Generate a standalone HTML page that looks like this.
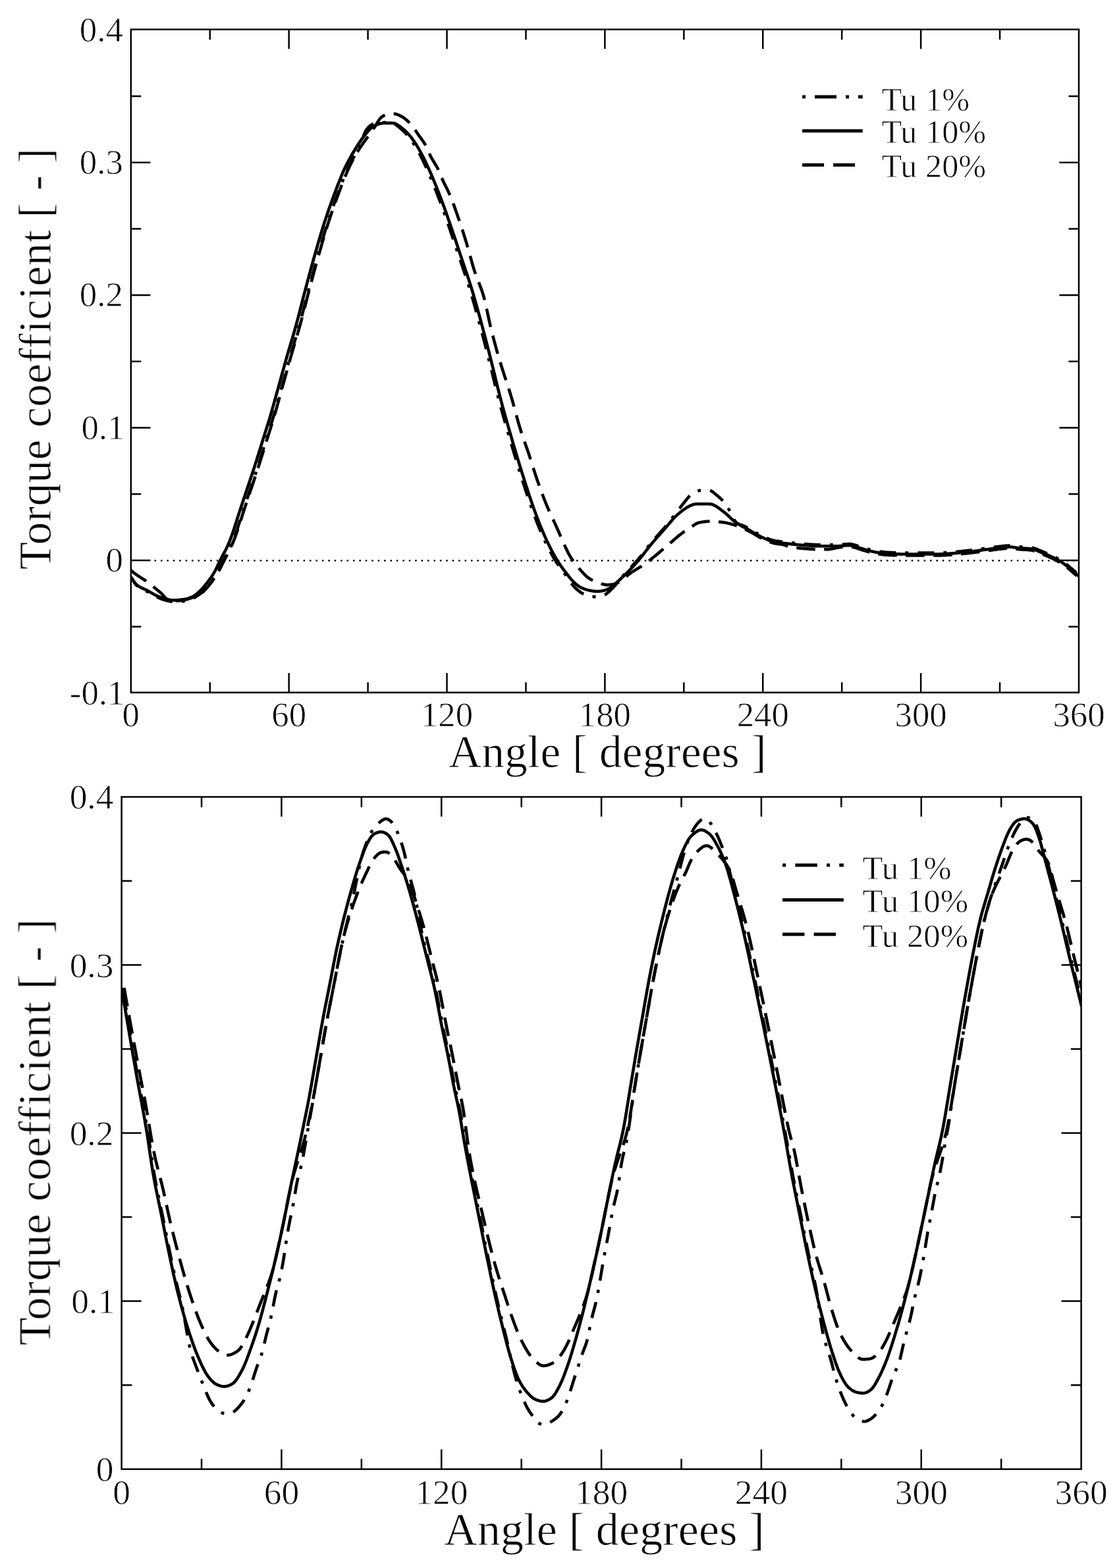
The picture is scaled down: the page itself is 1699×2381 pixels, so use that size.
<!DOCTYPE html>
<html lang="en"><head><meta charset="utf-8"><title>Torque coefficient vs. angle</title>
<style>
html,body{margin:0;padding:0;background:#fff;}
body{width:1699px;height:2381px;overflow:hidden;}
svg{display:block;}
text{font-family:"Liberation Serif", "Times New Roman", Times, serif;stroke:#fff;stroke-width:0.8px;filter:blur(0.6px);}
</style></head><body>
<svg width="1699" height="2381" viewBox="0 0 1699 2381" font-family='"Liberation Serif", "Times New Roman", Times, serif' fill="#000">
<rect width="1699" height="2381" fill="#fff"/>
<clipPath id="c1"><rect x="198.8" y="44.7" width="1439.2" height="1006.8999999999999"/></clipPath>
<clipPath id="c2"><rect x="184.6" y="1210.1" width="1457.0" height="1020.8000000000002"/></clipPath>
<g id="plot1">
<line x1="234.6" y1="851.3" x2="1636.0" y2="851.3" stroke="#000" stroke-width="2.5" stroke-dasharray="2.4 7.02"/>
<g clip-path="url(#c1)">
<path d="M200.3,878.5 L201.8,881.3 L203.3,883.6 L204.8,885.7 L206.3,887.6 L207.8,889.3 L209.3,890.6 L210.8,891.8 L212.3,892.8 L213.8,893.7 L215.3,894.6 L216.8,895.3 L218.3,896.0 L219.8,896.7 L221.3,897.3 L222.8,898.0 L224.3,898.7 L225.8,899.5 L227.3,900.4 L228.8,901.3 L230.3,902.2 L231.8,903.1 L233.3,903.9 L234.8,904.7 L236.3,905.5 L237.8,906.3 L239.3,907.0 L240.8,907.7 L242.3,908.3 L243.8,908.9 L245.3,909.5 L246.8,910.1 L248.3,910.6 L249.8,911.0 L251.3,911.5 L252.8,911.9 L254.3,912.2 L255.8,912.6 L257.3,912.9 L258.8,913.2 L260.3,913.5 L261.8,913.7 L263.3,913.9 L264.8,913.9 L266.3,913.9 L267.8,913.9 L269.3,913.8 L270.8,913.7 L272.3,913.6 L273.8,913.5 L275.3,913.4 L276.8,913.2 L278.3,913.0 L279.8,912.7 L281.3,912.5 L282.8,912.2 L284.3,911.9 L285.8,911.5 L287.3,911.0 L288.8,910.5 L290.3,910.0 L291.8,909.3 L293.3,908.6 L294.8,907.8 L296.3,906.9 L297.8,905.9 L299.3,904.9 L300.8,903.9 L302.3,902.8 L303.8,901.7 L305.3,900.4 L306.8,899.1 L308.3,897.7 L309.8,896.2 L311.3,894.6 L312.8,892.9 L314.3,891.2 L315.8,889.5 L317.3,887.7 L318.8,885.8 L320.3,883.9 L321.8,881.9 L323.3,879.8 L324.8,877.7 L326.3,875.5 L327.8,873.2 L329.3,870.7 L330.8,868.0 L332.3,865.1 L333.8,862.1 L335.3,859.0 L336.8,856.0 L338.3,853.1 L339.8,850.2 L341.3,847.3 L342.8,844.4 L344.3,841.5 L345.8,838.5 L347.3,835.5 L348.8,832.5 L350.3,829.3 L351.8,826.0 L353.3,822.5 L354.8,818.7 L356.3,814.7 L357.8,810.5 L359.3,806.2 L360.8,801.7 L362.3,797.1 L363.8,792.5 L365.3,787.7 L366.8,783.0 L368.3,778.3 L369.8,773.6 L371.3,769.0 L372.8,764.5 L374.3,760.0 L375.8,755.6 L377.3,751.1 L378.8,746.6 L380.3,742.2 L381.8,737.7 L383.3,733.2 L384.8,728.7 L386.3,724.2 L387.8,719.7 L389.3,715.1 L390.8,710.5 L392.3,705.9 L393.8,701.2 L395.3,696.4 L396.8,691.6 L398.3,686.8 L399.8,681.9 L401.3,677.1 L402.8,672.3 L404.3,667.6 L405.8,662.8 L407.3,658.0 L408.8,653.2 L410.3,648.4 L411.8,643.5 L413.3,638.7 L414.8,633.7 L416.3,628.7 L417.8,623.5 L419.3,618.3 L420.8,612.9 L422.3,607.5 L423.8,602.1 L425.3,596.7 L426.8,591.3 L428.3,585.8 L429.8,580.4 L431.3,575.0 L432.8,569.6 L434.3,564.1 L435.8,558.7 L437.3,553.3 L438.8,548.0 L440.3,542.7 L441.8,537.5 L443.3,532.4 L444.8,527.3 L446.3,522.3 L447.8,517.2 L449.3,512.1 L450.8,506.9 L452.3,501.6 L453.8,496.3 L455.3,490.9 L456.8,485.4 L458.3,479.7 L459.8,474.0 L461.3,468.1 L462.8,462.2 L464.3,456.4 L465.8,450.6 L467.3,444.8 L468.8,439.1 L470.3,433.4 L471.8,427.7 L473.3,422.1 L474.8,416.6 L476.3,411.0 L477.8,405.5 L479.3,400.1 L480.8,394.7 L482.3,389.3 L483.8,384.0 L485.3,378.8 L486.8,373.6 L488.3,368.4 L489.8,363.3 L491.3,358.3 L492.8,353.3 L494.3,348.4 L495.8,343.5 L497.3,338.8 L498.8,334.2 L500.3,329.6 L501.8,325.2 L503.3,320.8 L504.8,316.5 L506.3,312.3 L507.8,308.1 L509.3,304.0 L510.8,299.9 L512.3,295.8 L513.8,291.8 L515.3,287.8 L516.8,283.8 L518.3,279.9 L519.8,276.0 L521.3,272.2 L522.8,268.5 L524.3,264.9 L525.8,261.4 L527.3,258.0 L528.8,254.8 L530.3,251.6 L531.8,248.6 L533.3,245.7 L534.8,242.9 L536.3,240.2 L537.8,237.6 L539.3,235.1 L540.8,232.6 L542.3,230.1 L543.8,227.3 L545.3,224.2 L546.8,220.6 L548.3,216.6 L549.8,212.3 L551.3,208.0 L552.8,204.0 L554.3,200.6 L555.8,197.9 L557.3,195.7 L558.8,193.9 L560.3,192.4 L561.8,191.0 L563.3,189.9 L564.8,189.0 L566.3,188.4 L567.8,187.9 L569.3,187.5 L570.8,187.2 L572.3,186.9 L573.8,186.7 L575.3,186.5 L576.8,186.3 L578.3,186.2 L579.8,186.1 L581.3,186.0 L582.8,186.0 L584.3,186.1 L585.8,186.1 L587.3,186.2 L588.8,186.4 L590.3,186.5 L591.8,186.7 L593.3,186.9 L594.8,187.2 L596.3,187.5 L597.8,187.9 L599.3,188.5 L600.8,189.3 L602.3,190.3 L603.8,191.4 L605.3,192.6 L606.8,193.9 L608.3,195.2 L609.8,196.5 L611.3,197.8 L612.8,199.2 L614.3,200.7 L615.8,202.2 L617.3,203.9 L618.8,205.6 L620.3,207.4 L621.8,209.3 L623.3,211.2 L624.8,213.3 L626.3,215.5 L627.8,217.8 L629.3,220.2 L630.8,222.6 L632.3,225.2 L633.8,227.8 L635.3,230.4 L636.8,233.2 L638.3,236.0 L639.8,238.9 L641.3,241.9 L642.8,245.0 L644.3,248.2 L645.8,251.5 L647.3,254.8 L648.8,258.1 L650.3,261.5 L651.8,265.0 L653.3,268.5 L654.8,272.0 L656.3,275.6 L657.8,279.3 L659.3,283.0 L660.8,286.8 L662.3,290.6 L663.8,294.5 L665.3,298.4 L666.8,302.3 L668.3,306.3 L669.8,310.4 L671.3,314.5 L672.8,318.6 L674.3,322.8 L675.8,327.1 L677.3,331.4 L678.8,335.7 L680.3,340.0 L681.8,344.4 L683.3,348.8 L684.8,353.2 L686.3,357.7 L687.8,362.1 L689.3,366.6 L690.8,371.2 L692.3,375.7 L693.8,380.2 L695.3,384.8 L696.8,389.3 L698.3,393.7 L699.8,398.1 L701.3,402.5 L702.8,406.9 L704.3,411.4 L705.8,415.8 L707.3,420.3 L708.8,424.9 L710.3,429.5 L711.8,434.2 L713.3,439.1 L714.8,444.1 L716.3,449.1 L717.8,454.3 L719.3,459.6 L720.8,464.9 L722.3,470.3 L723.8,475.7 L725.3,481.1 L726.8,486.7 L728.3,492.2 L729.8,497.8 L731.3,503.5 L732.8,509.2 L734.3,514.9 L735.8,520.7 L737.3,526.5 L738.8,532.4 L740.3,538.2 L741.8,544.2 L743.3,550.2 L744.8,556.2 L746.3,562.3 L747.8,568.5 L749.3,574.7 L750.8,580.8 L752.3,586.9 L753.8,592.9 L755.3,598.8 L756.8,604.6 L758.3,610.4 L759.8,616.0 L761.3,621.6 L762.8,627.0 L764.3,632.3 L765.8,637.6 L767.3,642.9 L768.8,648.1 L770.3,653.3 L771.8,658.6 L773.3,663.7 L774.8,668.9 L776.3,674.0 L777.8,679.1 L779.3,684.2 L780.8,689.2 L782.3,694.2 L783.8,699.1 L785.3,704.0 L786.8,708.9 L788.3,713.8 L789.8,718.5 L791.3,723.3 L792.8,728.0 L794.3,732.8 L795.8,737.4 L797.3,742.1 L798.8,746.7 L800.3,751.2 L801.8,755.7 L803.3,760.1 L804.8,764.5 L806.3,768.8 L807.8,773.1 L809.3,777.2 L810.8,781.3 L812.3,785.3 L813.8,789.3 L815.3,793.1 L816.8,796.9 L818.3,800.6 L819.8,804.2 L821.3,807.7 L822.8,811.2 L824.3,814.6 L825.8,817.9 L827.3,821.1 L828.8,824.3 L830.3,827.4 L831.8,830.4 L833.3,833.4 L834.8,836.3 L836.3,839.1 L837.8,841.9 L839.3,844.6 L840.8,847.2 L842.3,849.6 L843.8,852.1 L845.3,854.4 L846.8,856.7 L848.3,858.9 L849.8,861.0 L851.3,863.0 L852.8,865.0 L854.3,867.0 L855.8,869.0 L857.3,871.1 L858.8,873.2 L860.3,875.4 L861.8,877.6 L863.3,879.8 L864.8,882.1 L866.3,884.2 L867.8,886.2 L869.3,888.1 L870.8,889.9 L872.3,891.5 L873.8,893.0 L875.3,894.5 L876.8,895.8 L878.3,897.1 L879.8,898.2 L881.3,899.3 L882.8,900.2 L884.3,901.1 L885.8,901.9 L887.3,902.6 L888.8,903.3 L890.3,903.9 L891.8,904.4 L893.3,904.8 L894.8,905.2 L896.3,905.5 L897.8,905.7 L899.3,905.9 L900.8,906.0 L902.3,906.1 L903.8,906.1 L905.3,906.1 L906.8,906.1 L908.3,905.9 L909.8,905.8 L911.3,905.6 L912.8,905.3 L914.3,905.0 L915.8,904.6 L917.3,903.9 L918.8,903.0 L920.3,902.0 L921.8,900.7 L923.3,899.5 L924.8,898.2 L926.3,896.8 L927.8,895.4 L929.3,893.9 L930.8,892.4 L932.3,890.8 L933.8,889.1 L935.3,887.4 L936.8,885.7 L938.3,884.0 L939.8,882.2 L941.3,880.4 L942.8,878.5 L944.3,876.5 L945.8,874.6 L947.3,872.8 L948.8,871.0 L950.3,869.3 L951.8,867.7 L953.3,866.2 L954.8,864.7 L956.3,863.2 L957.8,861.6 L959.3,860.0 L960.8,858.4 L962.3,856.8 L963.8,855.1 L965.3,853.5 L966.8,851.7 L968.3,850.0 L969.8,848.2 L971.3,846.4 L972.8,844.6 L974.3,842.7 L975.8,840.8 L977.3,838.8 L978.8,836.8 L980.3,834.9 L981.8,833.0 L983.3,831.0 L984.8,829.1 L986.3,827.2 L987.8,825.4 L989.3,823.6 L990.8,821.8 L992.3,820.0 L993.8,818.3 L995.3,816.6 L996.8,814.9 L998.3,813.2 L999.8,811.5 L1001.3,809.9 L1002.8,808.2 L1004.3,806.5 L1005.8,804.8 L1007.3,803.2 L1008.8,801.4 L1010.3,799.7 L1011.8,797.9 L1013.3,796.1 L1014.8,794.3 L1016.3,792.4 L1017.8,790.5 L1019.3,788.5 L1020.8,786.5 L1022.3,784.5 L1023.8,782.5 L1025.3,780.5 L1026.8,778.5 L1028.3,776.5 L1029.8,774.6 L1031.3,772.6 L1032.8,770.7 L1034.3,768.7 L1035.8,766.8 L1037.3,764.9 L1038.8,763.0 L1040.3,761.1 L1041.8,759.3 L1043.3,757.4 L1044.8,755.6 L1046.3,753.8 L1047.8,752.2 L1049.3,750.8 L1050.8,749.6 L1052.3,748.7 L1053.8,747.9 L1055.3,747.2 L1056.8,746.5 L1058.3,745.9 L1059.8,745.4 L1061.3,745.0 L1062.8,744.7 L1064.3,744.5 L1065.8,744.4 L1067.3,744.3 L1068.8,744.3 L1070.3,744.3 L1071.8,744.3 L1073.3,744.3 L1074.8,744.3 L1076.3,744.4 L1077.8,744.7 L1079.3,745.2 L1080.8,746.0 L1082.3,747.0 L1083.8,748.2 L1085.3,749.5 L1086.8,750.7 L1088.3,752.0 L1089.8,753.3 L1091.3,754.5 L1092.8,755.8 L1094.3,757.2 L1095.8,758.6 L1097.3,760.2 L1098.8,761.8 L1100.3,763.6 L1101.8,765.5 L1103.3,767.7 L1104.8,770.1 L1106.3,772.8 L1107.8,775.7 L1109.3,778.7 L1110.8,781.7 L1112.3,784.7 L1113.8,787.6 L1115.3,790.2 L1116.8,792.3 L1118.3,793.8 L1119.8,794.8 L1121.3,795.6 L1122.8,796.2 L1124.3,796.8 L1125.8,797.3 L1127.3,797.8 L1128.8,798.4 L1130.3,799.1 L1131.8,799.8 L1133.3,800.6 L1134.8,801.4 L1136.3,802.2 L1137.8,803.1 L1139.3,803.9 L1140.8,804.8 L1142.3,805.7 L1143.8,806.6 L1145.3,807.5 L1146.8,808.4 L1148.3,809.2 L1149.8,810.1 L1151.3,810.9 L1152.8,811.7 L1154.3,812.5 L1155.8,813.3 L1157.3,814.0 L1158.8,814.7 L1160.3,815.4 L1161.8,816.0 L1163.3,816.7 L1164.8,817.3 L1166.3,818.0 L1167.8,818.6 L1169.3,819.1 L1170.8,819.6 L1172.3,820.1 L1173.8,820.5 L1175.3,820.8 L1176.8,821.2 L1178.3,821.5 L1179.8,821.7 L1181.3,821.9 L1182.8,822.1 L1184.3,822.3 L1185.8,822.5 L1187.3,822.7 L1188.8,822.8 L1190.3,823.0 L1191.8,823.1 L1193.3,823.3 L1194.8,823.4 L1196.3,823.6 L1197.8,823.8 L1199.3,823.9 L1200.8,824.1 L1202.3,824.3 L1203.8,824.4 L1205.3,824.6 L1206.8,824.7 L1208.3,824.9 L1209.8,825.0 L1211.3,825.2 L1212.8,825.3 L1214.3,825.5 L1215.8,825.6 L1217.3,825.7 L1218.8,825.8 L1220.3,826.0 L1221.8,826.1 L1223.3,826.2 L1224.8,826.3 L1226.3,826.4 L1227.8,826.5 L1229.3,826.6 L1230.8,826.7 L1232.3,826.8 L1233.8,826.9 L1235.3,827.0 L1236.8,827.1 L1238.3,827.1 L1239.8,827.2 L1241.3,827.2 L1242.8,827.3 L1244.3,827.3 L1245.8,827.3 L1247.3,827.3 L1248.8,827.3 L1250.3,827.3 L1251.8,827.3 L1253.3,827.3 L1254.8,827.3 L1256.3,827.3 L1257.8,827.3 L1259.3,827.3 L1260.8,827.3 L1262.3,827.3 L1263.8,827.3 L1265.3,827.3 L1266.8,827.3 L1268.3,827.3 L1269.8,827.3 L1271.3,827.2 L1272.8,827.2 L1274.3,827.1 L1275.8,827.0 L1277.3,826.9 L1278.8,826.8 L1280.3,826.6 L1281.8,826.5 L1283.3,826.4 L1284.8,826.3 L1286.3,826.2 L1287.8,826.1 L1289.3,826.1 L1290.8,826.1 L1292.3,826.3 L1293.8,826.5 L1295.3,826.9 L1296.8,827.2 L1298.3,827.6 L1299.8,828.1 L1301.3,828.6 L1302.8,829.1 L1304.3,829.6 L1305.8,830.1 L1307.3,830.6 L1308.8,831.1 L1310.3,831.5 L1311.8,832.0 L1313.3,832.4 L1314.8,832.9 L1316.3,833.3 L1317.8,833.8 L1319.3,834.2 L1320.8,834.6 L1322.3,835.0 L1323.8,835.3 L1325.3,835.6 L1326.8,835.9 L1328.3,836.2 L1329.8,836.5 L1331.3,836.8 L1332.8,837.0 L1334.3,837.3 L1335.8,837.5 L1337.3,837.7 L1338.8,837.9 L1340.3,838.1 L1341.8,838.3 L1343.3,838.5 L1344.8,838.6 L1346.3,838.7 L1347.8,838.8 L1349.3,838.9 L1350.8,839.0 L1352.3,839.0 L1353.8,839.1 L1355.3,839.1 L1356.8,839.2 L1358.3,839.2 L1359.8,839.3 L1361.3,839.3 L1362.8,839.4 L1364.3,839.4 L1365.8,839.4 L1367.3,839.4 L1368.8,839.5 L1370.3,839.5 L1371.8,839.5 L1373.3,839.5 L1374.8,839.5 L1376.3,839.5 L1377.8,839.5 L1379.3,839.5 L1380.8,839.5 L1382.3,839.5 L1383.8,839.5 L1385.3,839.5 L1386.8,839.5 L1388.3,839.5 L1389.8,839.5 L1391.3,839.5 L1392.8,839.5 L1394.3,839.5 L1395.8,839.5 L1397.3,839.5 L1398.8,839.5 L1400.3,839.5 L1401.8,839.5 L1403.3,839.5 L1404.8,839.5 L1406.3,839.5 L1407.8,839.5 L1409.3,839.5 L1410.8,839.5 L1412.3,839.5 L1413.8,839.5 L1415.3,839.5 L1416.8,839.5 L1418.3,839.5 L1419.8,839.5 L1421.3,839.5 L1422.8,839.5 L1424.3,839.5 L1425.8,839.5 L1427.3,839.4 L1428.8,839.4 L1430.3,839.3 L1431.8,839.2 L1433.3,839.2 L1434.8,839.1 L1436.3,839.0 L1437.8,838.9 L1439.3,838.8 L1440.8,838.7 L1442.3,838.6 L1443.8,838.5 L1445.3,838.4 L1446.8,838.2 L1448.3,838.1 L1449.8,838.0 L1451.3,837.9 L1452.8,837.8 L1454.3,837.6 L1455.8,837.5 L1457.3,837.4 L1458.8,837.2 L1460.3,837.1 L1461.8,836.9 L1463.3,836.8 L1464.8,836.6 L1466.3,836.4 L1467.8,836.3 L1469.3,836.1 L1470.8,835.9 L1472.3,835.8 L1473.8,835.6 L1475.3,835.4 L1476.8,835.2 L1478.3,835.0 L1479.8,834.8 L1481.3,834.7 L1482.8,834.5 L1484.3,834.3 L1485.8,834.1 L1487.3,833.9 L1488.8,833.6 L1490.3,833.4 L1491.8,833.2 L1493.3,833.0 L1494.8,832.8 L1496.3,832.6 L1497.8,832.4 L1499.3,832.2 L1500.8,832.0 L1502.3,831.8 L1503.8,831.6 L1505.3,831.4 L1506.8,831.2 L1508.3,831.0 L1509.8,830.8 L1511.3,830.6 L1512.8,830.4 L1514.3,830.2 L1515.8,830.0 L1517.3,829.8 L1518.8,829.7 L1520.3,829.5 L1521.8,829.3 L1523.3,829.1 L1524.8,829.0 L1526.3,828.8 L1527.8,828.7 L1529.3,828.6 L1530.8,828.6 L1532.3,828.6 L1533.8,828.6 L1535.3,828.7 L1536.8,828.8 L1538.3,828.9 L1539.8,829.1 L1541.3,829.3 L1542.8,829.6 L1544.3,829.8 L1545.8,830.1 L1547.3,830.2 L1548.8,830.3 L1550.3,830.4 L1551.8,830.5 L1553.3,830.6 L1554.8,830.7 L1556.3,830.7 L1557.8,830.8 L1559.3,830.9 L1560.8,831.0 L1562.3,831.1 L1563.8,831.3 L1565.3,831.5 L1566.8,831.8 L1568.3,832.1 L1569.8,832.4 L1571.3,832.9 L1572.8,833.4 L1574.3,834.0 L1575.8,834.6 L1577.3,835.3 L1578.8,835.9 L1580.3,836.5 L1581.8,837.1 L1583.3,837.7 L1584.8,838.3 L1586.3,839.0 L1587.8,839.6 L1589.3,840.2 L1590.8,840.8 L1592.3,841.5 L1593.8,842.1 L1595.3,842.8 L1596.8,843.5 L1598.3,844.2 L1599.8,844.9 L1601.3,845.7 L1602.8,846.5 L1604.3,847.3 L1605.8,848.1 L1607.3,849.0 L1608.8,849.9 L1610.3,850.8 L1611.8,851.8 L1613.3,852.7 L1614.8,853.8 L1616.3,854.8 L1617.8,855.9 L1619.3,857.1 L1620.8,858.3 L1622.3,859.5 L1623.8,860.8 L1625.3,862.0 L1626.8,863.3 L1628.3,864.6 L1629.8,865.9 L1631.3,867.1 L1632.8,868.4 L1634.0,869.6" fill="none" stroke="#000" stroke-width="4.6" stroke-linejoin="round" stroke-dasharray="25 14 5 14" stroke-dashoffset="10" />
<path d="M198.8,866.0 L200.3,867.4 L201.8,868.6 L203.3,869.8 L204.8,870.9 L206.3,872.0 L207.8,873.1 L209.3,874.1 L210.8,875.1 L212.3,876.1 L213.8,877.1 L215.3,878.0 L216.8,879.0 L218.3,880.0 L219.8,880.9 L221.3,881.9 L222.8,882.9 L224.3,883.9 L225.8,885.0 L227.3,886.1 L228.8,887.3 L230.3,888.6 L231.8,889.9 L233.3,891.2 L234.8,892.5 L236.3,893.7 L237.8,895.0 L239.3,896.2 L240.8,897.5 L242.3,898.7 L243.8,900.0 L245.3,901.4 L246.8,903.0 L248.3,904.6 L249.8,906.3 L251.3,907.9 L252.8,909.3 L254.3,910.4 L255.8,911.1 L257.3,911.6 L258.8,912.0 L260.3,912.2 L261.8,912.3 L263.3,912.4 L264.8,912.4 L266.3,912.4 L267.8,912.3 L269.3,912.2 L270.8,912.1 L272.3,912.0 L273.8,911.8 L275.3,911.7 L276.8,911.5 L278.3,911.3 L279.8,911.0 L281.3,910.7 L282.8,910.4 L284.3,910.0 L285.8,909.5 L287.3,909.1 L288.8,908.6 L290.3,908.1 L291.8,907.6 L293.3,907.0 L294.8,906.4 L296.3,905.8 L297.8,905.2 L299.3,904.5 L300.8,903.7 L302.3,902.9 L303.8,902.1 L305.3,901.1 L306.8,900.0 L308.3,898.8 L309.8,897.3 L311.3,895.7 L312.8,894.1 L314.3,892.4 L315.8,890.7 L317.3,888.9 L318.8,887.0 L320.3,885.1 L321.8,883.2 L323.3,881.2 L324.8,879.1 L326.3,877.0 L327.8,874.8 L329.3,872.4 L330.8,869.8 L332.3,867.0 L333.8,864.1 L335.3,861.1 L336.8,858.0 L338.3,855.1 L339.8,852.1 L341.3,849.2 L342.8,846.3 L344.3,843.4 L345.8,840.5 L347.3,837.5 L348.8,834.5 L350.3,831.4 L351.8,828.2 L353.3,824.8 L354.8,821.2 L356.3,817.4 L357.8,813.3 L359.3,809.1 L360.8,804.7 L362.3,800.2 L363.8,795.6 L365.3,790.9 L366.8,786.1 L368.3,781.4 L369.8,776.7 L371.3,772.1 L372.8,767.5 L374.3,763.0 L375.8,758.6 L377.3,754.1 L378.8,749.6 L380.3,745.1 L381.8,740.7 L383.3,736.2 L384.8,731.7 L386.3,727.2 L387.8,722.7 L389.3,718.2 L390.8,713.6 L392.3,709.0 L393.8,704.3 L395.3,699.6 L396.8,694.8 L398.3,690.0 L399.8,685.2 L401.3,680.3 L402.8,675.5 L404.3,670.7 L405.8,666.0 L407.3,661.2 L408.8,656.4 L410.3,651.6 L411.8,646.8 L413.3,641.9 L414.8,637.0 L416.3,632.0 L417.8,627.0 L419.3,621.8 L420.8,616.5 L422.3,611.1 L423.8,605.7 L425.3,600.3 L426.8,594.9 L428.3,589.5 L429.8,584.0 L431.3,578.6 L432.8,573.2 L434.3,567.7 L435.8,562.3 L437.3,556.9 L438.8,551.5 L440.3,546.2 L441.8,540.9 L443.3,535.8 L444.8,530.7 L446.3,525.6 L447.8,520.6 L449.3,515.5 L450.8,510.4 L452.3,505.2 L453.8,499.9 L455.3,494.5 L456.8,489.1 L458.3,483.5 L459.8,477.8 L461.3,472.0 L462.8,466.1 L464.3,460.3 L465.8,454.4 L467.3,448.6 L468.8,442.9 L470.3,437.2 L471.8,431.5 L473.3,425.9 L474.8,420.3 L476.3,414.7 L477.8,409.2 L479.3,403.7 L480.8,398.3 L482.3,392.9 L483.8,387.5 L485.3,382.3 L486.8,377.0 L488.3,371.9 L489.8,366.7 L491.3,361.6 L492.8,356.6 L494.3,351.6 L495.8,346.8 L497.3,342.0 L498.8,337.3 L500.3,332.7 L501.8,328.2 L503.3,323.7 L504.8,319.4 L506.3,315.1 L507.8,310.9 L509.3,306.7 L510.8,302.6 L512.3,298.5 L513.8,294.5 L515.3,290.5 L516.8,286.5 L518.3,282.5 L519.8,278.6 L521.3,274.7 L522.8,271.0 L524.3,267.3 L525.8,263.8 L527.3,260.3 L528.8,256.9 L530.3,253.7 L531.8,250.6 L533.3,247.7 L534.8,244.8 L536.3,242.0 L537.8,239.3 L539.3,236.6 L540.8,234.0 L542.3,231.4 L543.8,228.9 L545.3,226.5 L546.8,224.2 L548.3,221.9 L549.8,219.7 L551.3,217.6 L552.8,215.5 L554.3,213.4 L555.8,211.3 L557.3,209.3 L558.8,207.3 L560.3,205.3 L561.8,203.2 L563.3,201.2 L564.8,199.1 L566.3,196.9 L567.8,194.6 L569.3,192.2 L570.8,189.7 L572.3,187.2 L573.8,184.7 L575.3,182.4 L576.8,180.3 L578.3,178.7 L579.8,177.4 L581.3,176.4 L582.8,175.6 L584.3,174.9 L585.8,174.3 L587.3,173.8 L588.8,173.5 L590.3,173.2 L591.8,173.1 L593.3,172.9 L594.8,172.8 L596.3,172.8 L597.8,172.8 L599.3,172.9 L600.8,173.1 L602.3,173.5 L603.8,174.1 L605.3,174.7 L606.8,175.3 L608.3,176.1 L609.8,176.9 L611.3,177.7 L612.8,178.7 L614.3,179.8 L615.8,181.0 L617.3,182.3 L618.8,183.7 L620.3,185.2 L621.8,186.7 L623.3,188.3 L624.8,189.9 L626.3,191.7 L627.8,193.6 L629.3,195.7 L630.8,198.0 L632.3,200.3 L633.8,202.6 L635.3,204.8 L636.8,206.9 L638.3,208.9 L639.8,210.9 L641.3,213.0 L642.8,215.1 L644.3,217.4 L645.8,219.9 L647.3,222.8 L648.8,226.0 L650.3,229.5 L651.8,233.0 L653.3,236.3 L654.8,239.2 L656.3,241.9 L657.8,244.3 L659.3,246.7 L660.8,249.2 L662.3,251.7 L663.8,254.3 L665.3,257.3 L666.8,260.6 L668.3,264.1 L669.8,267.8 L671.3,271.4 L672.8,274.7 L674.3,277.9 L675.8,281.0 L677.3,284.0 L678.8,287.0 L680.3,290.1 L681.8,293.4 L683.3,296.8 L684.8,300.4 L686.3,304.2 L687.8,308.1 L689.3,312.1 L690.8,316.3 L692.3,320.5 L693.8,324.8 L695.3,329.2 L696.8,333.5 L698.3,338.0 L699.8,342.4 L701.3,347.0 L702.8,351.6 L704.3,356.3 L705.8,361.0 L707.3,365.9 L708.8,370.9 L710.3,376.0 L711.8,381.3 L713.3,386.7 L714.8,392.2 L716.3,397.6 L717.8,402.9 L719.3,407.9 L720.8,412.6 L722.3,417.0 L723.8,421.0 L725.3,424.9 L726.8,428.7 L728.3,432.5 L729.8,436.4 L731.3,440.5 L732.8,444.9 L734.3,449.9 L735.8,455.4 L737.3,461.7 L738.8,468.5 L740.3,475.6 L741.8,482.6 L743.3,489.4 L744.8,495.9 L746.3,502.0 L747.8,508.0 L749.3,513.8 L750.8,519.5 L752.3,525.0 L753.8,530.5 L755.3,535.8 L756.8,541.0 L758.3,546.1 L759.8,551.0 L761.3,555.8 L762.8,560.6 L764.3,565.2 L765.8,569.9 L767.3,574.5 L768.8,579.0 L770.3,583.7 L771.8,588.3 L773.3,593.0 L774.8,597.8 L776.3,602.8 L777.8,607.8 L779.3,613.1 L780.8,618.6 L782.3,624.1 L783.8,629.8 L785.3,635.4 L786.8,640.8 L788.3,646.0 L789.8,651.0 L791.3,655.7 L792.8,660.3 L794.3,664.7 L795.8,669.0 L797.3,673.2 L798.8,677.5 L800.3,681.7 L801.8,686.1 L803.3,690.6 L804.8,695.2 L806.3,699.9 L807.8,704.6 L809.3,709.4 L810.8,714.1 L812.3,718.7 L813.8,723.3 L815.3,727.7 L816.8,732.0 L818.3,736.3 L819.8,740.5 L821.3,744.7 L822.8,748.8 L824.3,752.8 L825.8,756.7 L827.3,760.5 L828.8,764.2 L830.3,767.8 L831.8,771.3 L833.3,774.7 L834.8,778.1 L836.3,781.4 L837.8,784.7 L839.3,787.9 L840.8,791.1 L842.3,794.4 L843.8,797.6 L845.3,800.9 L846.8,804.3 L848.3,807.7 L849.8,811.1 L851.3,814.6 L852.8,818.1 L854.3,821.5 L855.8,824.9 L857.3,828.2 L858.8,831.5 L860.3,834.6 L861.8,837.6 L863.3,840.5 L864.8,843.3 L866.3,845.9 L867.8,848.3 L869.3,850.6 L870.8,852.7 L872.3,854.8 L873.8,856.7 L875.3,858.6 L876.8,860.4 L878.3,862.2 L879.8,863.9 L881.3,865.5 L882.8,867.2 L884.3,868.8 L885.8,870.5 L887.3,872.1 L888.8,873.6 L890.3,875.1 L891.8,876.3 L893.3,877.5 L894.8,878.5 L896.3,879.4 L897.8,880.2 L899.3,881.0 L900.8,881.7 L902.3,882.4 L903.8,883.1 L905.3,883.7 L906.8,884.3 L908.3,884.8 L909.8,885.4 L911.3,885.9 L912.8,886.4 L914.3,886.8 L915.8,887.3 L917.3,887.6 L918.8,887.9 L920.3,888.1 L921.8,888.1 L923.3,888.1 L924.8,888.0 L926.3,887.9 L927.8,887.8 L929.3,887.6 L930.8,887.4 L932.3,887.1 L933.8,886.7 L935.3,886.2 L936.8,885.5 L938.3,884.7 L939.8,883.7 L941.3,882.7 L942.8,881.6 L944.3,880.5 L945.8,879.4 L947.3,878.3 L948.8,877.1 L950.3,875.9 L951.8,874.7 L953.3,873.4 L954.8,872.2 L956.3,871.0 L957.8,869.9 L959.3,868.9 L960.8,867.9 L962.3,866.9 L963.8,866.0 L965.3,865.1 L966.8,864.1 L968.3,863.3 L969.8,862.4 L971.3,861.4 L972.8,860.5 L974.3,859.6 L975.8,858.6 L977.3,857.6 L978.8,856.5 L980.3,855.4 L981.8,854.3 L983.3,853.2 L984.8,852.0 L986.3,850.9 L987.8,849.7 L989.3,848.5 L990.8,847.2 L992.3,846.0 L993.8,844.8 L995.3,843.6 L996.8,842.4 L998.3,841.1 L999.8,839.9 L1001.3,838.6 L1002.8,837.3 L1004.3,836.1 L1005.8,834.8 L1007.3,833.5 L1008.8,832.2 L1010.3,830.9 L1011.8,829.6 L1013.3,828.3 L1014.8,827.0 L1016.3,825.7 L1017.8,824.4 L1019.3,823.2 L1020.8,821.9 L1022.3,820.6 L1023.8,819.3 L1025.3,818.0 L1026.8,816.7 L1028.3,815.4 L1029.8,814.1 L1031.3,812.9 L1032.8,811.7 L1034.3,810.6 L1035.8,809.5 L1037.3,808.4 L1038.8,807.3 L1040.3,806.3 L1041.8,805.3 L1043.3,804.3 L1044.8,803.4 L1046.3,802.4 L1047.8,801.4 L1049.3,800.4 L1050.8,799.4 L1052.3,798.3 L1053.8,797.3 L1055.3,796.3 L1056.8,795.4 L1058.3,794.6 L1059.8,794.0 L1061.3,793.6 L1062.8,793.2 L1064.3,793.0 L1065.8,792.7 L1067.3,792.5 L1068.8,792.3 L1070.3,792.1 L1071.8,791.9 L1073.3,791.8 L1074.8,791.7 L1076.3,791.7 L1077.8,791.6 L1079.3,791.6 L1080.8,791.7 L1082.3,791.7 L1083.8,791.8 L1085.3,791.9 L1086.8,792.0 L1088.3,792.1 L1089.8,792.2 L1091.3,792.4 L1092.8,792.5 L1094.3,792.7 L1095.8,792.9 L1097.3,793.1 L1098.8,793.3 L1100.3,793.5 L1101.8,793.7 L1103.3,794.0 L1104.8,794.4 L1106.3,794.7 L1107.8,795.1 L1109.3,795.5 L1110.8,796.0 L1112.3,796.4 L1113.8,796.8 L1115.3,797.3 L1116.8,797.8 L1118.3,798.3 L1119.8,798.8 L1121.3,799.3 L1122.8,799.9 L1124.3,800.5 L1125.8,801.2 L1127.3,801.8 L1128.8,802.5 L1130.3,803.2 L1131.8,803.9 L1133.3,804.6 L1134.8,805.3 L1136.3,806.1 L1137.8,806.8 L1139.3,807.6 L1140.8,808.4 L1142.3,809.3 L1143.8,810.2 L1145.3,811.1 L1146.8,812.0 L1148.3,812.9 L1149.8,813.8 L1151.3,814.7 L1152.8,815.6 L1154.3,816.4 L1155.8,817.2 L1157.3,818.0 L1158.8,818.7 L1160.3,819.4 L1161.8,820.1 L1163.3,820.7 L1164.8,821.3 L1166.3,821.9 L1167.8,822.5 L1169.3,823.1 L1170.8,823.6 L1172.3,824.1 L1173.8,824.5 L1175.3,824.9 L1176.8,825.2 L1178.3,825.5 L1179.8,825.7 L1181.3,825.9 L1182.8,826.1 L1184.3,826.3 L1185.8,826.5 L1187.3,826.7 L1188.8,826.9 L1190.3,827.3 L1191.8,827.8 L1193.3,828.4 L1194.8,829.1 L1196.3,829.7 L1197.8,830.3 L1199.3,830.7 L1200.8,831.0 L1202.3,831.3 L1203.8,831.5 L1205.3,831.6 L1206.8,831.7 L1208.3,831.9 L1209.8,832.0 L1211.3,832.2 L1212.8,832.3 L1214.3,832.5 L1215.8,832.6 L1217.3,832.7 L1218.8,832.8 L1220.3,832.9 L1221.8,833.1 L1223.3,833.2 L1224.8,833.3 L1226.3,833.4 L1227.8,833.5 L1229.3,833.6 L1230.8,833.7 L1232.3,833.8 L1233.8,833.9 L1235.3,834.0 L1236.8,834.1 L1238.3,834.1 L1239.8,834.2 L1241.3,834.2 L1242.8,834.2 L1244.3,834.3 L1245.8,834.3 L1247.3,834.3 L1248.8,834.3 L1250.3,834.3 L1251.8,834.3 L1253.3,834.3 L1254.8,834.3 L1256.3,834.3 L1257.8,834.2 L1259.3,834.0 L1260.8,833.8 L1262.3,833.6 L1263.8,833.3 L1265.3,833.0 L1266.8,832.7 L1268.3,832.3 L1269.8,832.0 L1271.3,831.7 L1272.8,831.5 L1274.3,831.2 L1275.8,831.0 L1277.3,830.9 L1278.8,830.7 L1280.3,830.6 L1281.8,830.5 L1283.3,830.4 L1284.8,830.3 L1286.3,830.2 L1287.8,830.1 L1289.3,830.1 L1290.8,830.1 L1292.3,830.2 L1293.8,830.5 L1295.3,830.8 L1296.8,831.2 L1298.3,831.6 L1299.8,832.1 L1301.3,832.6 L1302.8,833.1 L1304.3,833.6 L1305.8,834.1 L1307.3,834.6 L1308.8,835.1 L1310.3,835.5 L1311.8,836.0 L1313.3,836.4 L1314.8,836.9 L1316.3,837.3 L1317.8,837.8 L1319.3,838.2 L1320.8,838.6 L1322.3,839.0 L1323.8,839.3 L1325.3,839.7 L1326.8,839.9 L1328.3,840.2 L1329.8,840.5 L1331.3,840.8 L1332.8,841.0 L1334.3,841.3 L1335.8,841.5 L1337.3,841.7 L1338.8,841.9 L1340.3,842.1 L1341.8,842.3 L1343.3,842.5 L1344.8,842.6 L1346.3,842.7 L1347.8,842.8 L1349.3,842.9 L1350.8,843.0 L1352.3,843.0 L1353.8,843.1 L1355.3,843.1 L1356.8,843.2 L1358.3,843.2 L1359.8,843.3 L1361.3,843.3 L1362.8,843.4 L1364.3,843.4 L1365.8,843.4 L1367.3,843.4 L1368.8,843.5 L1370.3,843.5 L1371.8,843.5 L1373.3,843.5 L1374.8,843.5 L1376.3,843.5 L1377.8,843.5 L1379.3,843.5 L1380.8,843.5 L1382.3,843.5 L1383.8,843.5 L1385.3,843.5 L1386.8,843.5 L1388.3,843.5 L1389.8,843.5 L1391.3,843.5 L1392.8,843.5 L1394.3,843.5 L1395.8,843.5 L1397.3,843.5 L1398.8,843.5 L1400.3,843.5 L1401.8,843.5 L1403.3,843.5 L1404.8,843.5 L1406.3,843.5 L1407.8,843.5 L1409.3,843.5 L1410.8,843.5 L1412.3,843.5 L1413.8,843.5 L1415.3,843.5 L1416.8,843.5 L1418.3,843.5 L1419.8,843.5 L1421.3,843.5 L1422.8,843.5 L1424.3,843.5 L1425.8,843.5 L1427.3,843.4 L1428.8,843.4 L1430.3,843.3 L1431.8,843.2 L1433.3,843.2 L1434.8,843.1 L1436.3,843.0 L1437.8,842.9 L1439.3,842.8 L1440.8,842.7 L1442.3,842.6 L1443.8,842.5 L1445.3,842.4 L1446.8,842.2 L1448.3,842.1 L1449.8,842.0 L1451.3,841.9 L1452.8,841.8 L1454.3,841.6 L1455.8,841.5 L1457.3,841.4 L1458.8,841.2 L1460.3,841.1 L1461.8,840.9 L1463.3,840.8 L1464.8,840.6 L1466.3,840.4 L1467.8,840.3 L1469.3,840.1 L1470.8,839.9 L1472.3,839.8 L1473.8,839.6 L1475.3,839.4 L1476.8,839.2 L1478.3,839.0 L1479.8,838.8 L1481.3,838.7 L1482.8,838.5 L1484.3,838.3 L1485.8,838.1 L1487.3,837.9 L1488.8,837.6 L1490.3,837.4 L1491.8,837.2 L1493.3,837.0 L1494.8,836.8 L1496.3,836.6 L1497.8,836.4 L1499.3,836.2 L1500.8,836.0 L1502.3,835.8 L1503.8,835.6 L1505.3,835.4 L1506.8,835.2 L1508.3,835.0 L1509.8,834.8 L1511.3,834.6 L1512.8,834.4 L1514.3,834.2 L1515.8,834.0 L1517.3,833.8 L1518.8,833.7 L1520.3,833.5 L1521.8,833.3 L1523.3,833.2 L1524.8,833.0 L1526.3,832.8 L1527.8,832.7 L1529.3,832.6 L1530.8,832.5 L1532.3,832.5 L1533.8,832.6 L1535.3,832.7 L1536.8,832.8 L1538.3,833.0 L1539.8,833.1 L1541.3,833.4 L1542.8,833.6 L1544.3,833.8 L1545.8,834.0 L1547.3,834.2 L1548.8,834.3 L1550.3,834.4 L1551.8,834.5 L1553.3,834.6 L1554.8,834.7 L1556.3,834.7 L1557.8,834.8 L1559.3,834.9 L1560.8,835.0 L1562.3,835.1 L1563.8,835.3 L1565.3,835.5 L1566.8,835.8 L1568.3,836.1 L1569.8,836.5 L1571.3,836.9 L1572.8,837.4 L1574.3,838.0 L1575.8,838.6 L1577.3,839.3 L1578.8,839.9 L1580.3,840.5 L1581.8,841.1 L1583.3,841.7 L1584.8,842.3 L1586.3,843.0 L1587.8,843.6 L1589.3,844.2 L1590.8,844.8 L1592.3,845.5 L1593.8,846.1 L1595.3,846.8 L1596.8,847.5 L1598.3,848.2 L1599.8,848.9 L1601.3,849.7 L1602.8,850.5 L1604.3,851.3 L1605.8,852.1 L1607.3,853.0 L1608.8,853.9 L1610.3,854.8 L1611.8,855.8 L1613.3,856.8 L1614.8,857.8 L1616.3,858.9 L1617.8,860.0 L1619.3,861.1 L1620.8,862.3 L1622.3,863.5 L1623.8,864.7 L1625.3,866.0 L1626.8,867.3 L1628.3,868.6 L1629.8,869.9 L1631.3,871.2 L1632.8,872.4 L1634.3,873.7 L1635.0,874.5" fill="none" stroke="#000" stroke-width="4.6" stroke-linejoin="round" stroke-dasharray="28.5 13.5" stroke-dashoffset="0" />
<path d="M198.8,876.0 L200.3,878.6 L201.8,880.8 L203.3,883.0 L204.8,884.9 L206.3,886.7 L207.8,888.2 L209.3,889.4 L210.8,890.4 L212.3,891.3 L213.8,892.1 L215.3,892.8 L216.8,893.5 L218.3,894.1 L219.8,894.8 L221.3,895.5 L222.8,896.2 L224.3,897.0 L225.8,897.9 L227.3,898.7 L228.8,899.6 L230.3,900.5 L231.8,901.4 L233.3,902.3 L234.8,903.1 L236.3,903.8 L237.8,904.5 L239.3,905.2 L240.8,905.8 L242.3,906.4 L243.8,907.0 L245.3,907.6 L246.8,908.1 L248.3,908.5 L249.8,909.0 L251.3,909.4 L252.8,909.7 L254.3,910.1 L255.8,910.4 L257.3,910.7 L258.8,911.0 L260.3,911.2 L261.8,911.3 L263.3,911.4 L264.8,911.5 L266.3,911.4 L267.8,911.4 L269.3,911.3 L270.8,911.1 L272.3,911.0 L273.8,910.8 L275.3,910.6 L276.8,910.4 L278.3,910.2 L279.8,910.0 L281.3,909.7 L282.8,909.4 L284.3,909.0 L285.8,908.6 L287.3,908.1 L288.8,907.5 L290.3,906.9 L291.8,906.3 L293.3,905.6 L294.8,904.7 L296.3,903.8 L297.8,902.6 L299.3,901.3 L300.8,900.0 L302.3,898.5 L303.8,897.1 L305.3,895.6 L306.8,894.0 L308.3,892.4 L309.8,890.7 L311.3,888.9 L312.8,887.0 L314.3,885.1 L315.8,883.2 L317.3,881.2 L318.8,879.1 L320.3,877.0 L321.8,874.7 L323.3,872.4 L324.8,869.9 L326.3,867.3 L327.8,864.5 L329.3,861.4 L330.8,858.2 L332.3,855.0 L333.8,851.9 L335.3,848.9 L336.8,846.0 L338.3,843.2 L339.8,840.4 L341.3,837.6 L342.8,834.7 L344.3,831.6 L345.8,828.4 L347.3,824.9 L348.8,821.3 L350.3,817.4 L351.8,813.4 L353.3,809.2 L354.8,804.8 L356.3,800.1 L357.8,795.4 L359.3,790.6 L360.8,785.9 L362.3,781.2 L363.8,776.6 L365.3,772.1 L366.8,767.6 L368.3,763.1 L369.8,758.6 L371.3,754.1 L372.8,749.6 L374.3,745.1 L375.8,740.6 L377.3,736.2 L378.8,731.7 L380.3,727.2 L381.8,722.7 L383.3,718.2 L384.8,713.7 L386.3,709.0 L387.8,704.4 L389.3,699.6 L390.8,694.8 L392.3,690.0 L393.8,685.2 L395.3,680.3 L396.8,675.5 L398.3,670.7 L399.8,665.9 L401.3,661.1 L402.8,656.4 L404.3,651.6 L405.8,646.8 L407.3,642.0 L408.8,637.1 L410.3,632.1 L411.8,627.0 L413.3,621.8 L414.8,616.5 L416.3,611.2 L417.8,605.7 L419.3,600.3 L420.8,594.9 L422.3,589.5 L423.8,584.0 L425.3,578.6 L426.8,573.2 L428.3,567.7 L429.8,562.3 L431.3,556.9 L432.8,551.5 L434.3,546.2 L435.8,540.9 L437.3,535.7 L438.8,530.6 L440.3,525.6 L441.8,520.5 L443.3,515.5 L444.8,510.4 L446.3,505.3 L447.8,500.0 L449.3,494.7 L450.8,489.2 L452.3,483.5 L453.8,477.8 L455.3,472.0 L456.8,466.1 L458.3,460.3 L459.8,454.4 L461.3,448.6 L462.8,442.8 L464.3,437.1 L465.8,431.5 L467.3,425.9 L468.8,420.3 L470.3,414.7 L471.8,409.2 L473.3,403.7 L474.8,398.3 L476.3,392.9 L477.8,387.6 L479.3,382.3 L480.8,377.1 L482.3,371.9 L483.8,366.7 L485.3,361.6 L486.8,356.6 L488.3,351.6 L489.8,346.7 L491.3,342.0 L492.8,337.3 L494.3,332.7 L495.8,328.1 L497.3,323.7 L498.8,319.4 L500.3,315.1 L501.8,310.9 L503.3,306.7 L504.8,302.6 L506.3,298.5 L507.8,294.5 L509.3,290.5 L510.8,286.5 L512.3,282.6 L513.8,278.6 L515.3,274.8 L516.8,271.0 L518.3,267.3 L519.8,263.7 L521.3,260.2 L522.8,256.9 L524.3,253.7 L525.8,250.6 L527.3,247.7 L528.8,244.8 L530.3,242.0 L531.8,239.3 L533.3,236.6 L534.8,234.0 L536.3,231.5 L537.8,229.0 L539.3,226.5 L540.8,224.1 L542.3,221.7 L543.8,219.3 L545.3,217.0 L546.8,214.8 L548.3,212.6 L549.8,210.5 L551.3,208.5 L552.8,206.6 L554.3,204.7 L555.8,202.9 L557.3,201.1 L558.8,199.3 L560.3,197.6 L561.8,196.0 L563.3,194.6 L564.8,193.4 L566.3,192.3 L567.8,191.5 L569.3,190.7 L570.8,190.0 L572.3,189.4 L573.8,188.8 L575.3,188.2 L576.8,187.8 L578.3,187.4 L579.8,187.2 L581.3,187.0 L582.8,186.9 L584.3,186.9 L585.8,186.9 L587.3,186.9 L588.8,186.9 L590.3,186.9 L591.8,186.9 L593.3,186.9 L594.8,186.9 L596.3,187.0 L597.8,187.1 L599.3,187.4 L600.8,188.0 L602.3,188.7 L603.8,189.6 L605.3,190.6 L606.8,191.7 L608.3,192.8 L609.8,194.0 L611.3,195.2 L612.8,196.5 L614.3,197.8 L615.8,199.2 L617.3,200.6 L618.8,202.2 L620.3,203.9 L621.8,205.6 L623.3,207.4 L624.8,209.3 L626.3,211.3 L627.8,213.3 L629.3,215.5 L630.8,217.7 L632.3,220.1 L633.8,222.6 L635.3,225.1 L636.8,227.8 L638.3,230.5 L639.8,233.3 L641.3,236.1 L642.8,239.0 L644.3,242.0 L645.8,245.0 L647.3,248.2 L648.8,251.4 L650.3,254.7 L651.8,258.1 L653.3,261.5 L654.8,265.0 L656.3,268.5 L657.8,272.0 L659.3,275.6 L660.8,279.3 L662.3,283.0 L663.8,286.8 L665.3,290.6 L666.8,294.5 L668.3,298.4 L669.8,302.3 L671.3,306.3 L672.8,310.4 L674.3,314.5 L675.8,318.6 L677.3,322.8 L678.8,327.1 L680.3,331.4 L681.8,335.7 L683.3,340.0 L684.8,344.4 L686.3,348.8 L687.8,353.2 L689.3,357.6 L690.8,362.1 L692.3,366.6 L693.8,371.2 L695.3,375.7 L696.8,380.2 L698.3,384.8 L699.8,389.3 L701.3,393.7 L702.8,398.2 L704.3,402.6 L705.8,407.0 L707.3,411.4 L708.8,415.8 L710.3,420.3 L711.8,424.8 L713.3,429.5 L714.8,434.2 L716.3,439.1 L717.8,444.0 L719.3,449.1 L720.8,454.3 L722.3,459.6 L723.8,464.9 L725.3,470.3 L726.8,475.7 L728.3,481.2 L729.8,486.7 L731.3,492.2 L732.8,497.8 L734.3,503.5 L735.8,509.2 L737.3,514.9 L738.8,520.7 L740.3,526.5 L741.8,532.4 L743.3,538.2 L744.8,544.2 L746.3,550.1 L747.8,556.2 L749.3,562.3 L750.8,568.4 L752.3,574.6 L753.8,580.8 L755.3,586.9 L756.8,593.0 L758.3,598.9 L759.8,604.8 L761.3,610.5 L762.8,616.1 L764.3,621.6 L765.8,627.0 L767.3,632.3 L768.8,637.6 L770.3,642.9 L771.8,648.1 L773.3,653.3 L774.8,658.5 L776.3,663.7 L777.8,668.9 L779.3,674.0 L780.8,679.1 L782.3,684.2 L783.8,689.2 L785.3,694.2 L786.8,699.1 L788.3,704.1 L789.8,708.9 L791.3,713.8 L792.8,718.6 L794.3,723.3 L795.8,728.0 L797.3,732.7 L798.8,737.4 L800.3,742.0 L801.8,746.6 L803.3,751.2 L804.8,755.7 L806.3,760.2 L807.8,764.6 L809.3,768.9 L810.8,773.1 L812.3,777.2 L813.8,781.3 L815.3,785.3 L816.8,789.2 L818.3,793.1 L819.8,796.9 L821.3,800.6 L822.8,804.2 L824.3,807.7 L825.8,811.2 L827.3,814.6 L828.8,817.9 L830.3,821.2 L831.8,824.3 L833.3,827.4 L834.8,830.4 L836.3,833.4 L837.8,836.3 L839.3,839.1 L840.8,841.9 L842.3,844.6 L843.8,847.2 L845.3,849.7 L846.8,852.1 L848.3,854.4 L849.8,856.7 L851.3,858.9 L852.8,861.0 L854.3,863.1 L855.8,865.1 L857.3,867.1 L858.8,869.0 L860.3,871.0 L861.8,872.9 L863.3,874.9 L864.8,876.8 L866.3,878.6 L867.8,880.4 L869.3,882.0 L870.8,883.5 L872.3,885.0 L873.8,886.3 L875.3,887.5 L876.8,888.7 L878.3,889.8 L879.8,890.8 L881.3,891.8 L882.8,892.6 L884.3,893.2 L885.8,893.9 L887.3,894.4 L888.8,894.9 L890.3,895.4 L891.8,895.8 L893.3,896.1 L894.8,896.5 L896.3,896.8 L897.8,897.1 L899.3,897.3 L900.8,897.6 L902.3,897.8 L903.8,897.9 L905.3,898.0 L906.8,898.0 L908.3,898.0 L909.8,897.9 L911.3,897.7 L912.8,897.5 L914.3,897.2 L915.8,896.9 L917.3,896.5 L918.8,896.1 L920.3,895.7 L921.8,895.1 L923.3,894.5 L924.8,893.6 L926.3,892.6 L927.8,891.5 L929.3,890.3 L930.8,889.1 L932.3,887.8 L933.8,886.6 L935.3,885.3 L936.8,884.0 L938.3,882.7 L939.8,881.4 L941.3,880.0 L942.8,878.6 L944.3,877.1 L945.8,875.7 L947.3,874.3 L948.8,872.8 L950.3,871.3 L951.8,869.8 L953.3,868.3 L954.8,866.8 L956.3,865.3 L957.8,863.7 L959.3,862.1 L960.8,860.5 L962.3,858.9 L963.8,857.2 L965.3,855.6 L966.8,853.9 L968.3,852.2 L969.8,850.4 L971.3,848.6 L972.8,846.8 L974.3,844.9 L975.8,843.0 L977.3,841.1 L978.8,839.2 L980.3,837.2 L981.8,835.2 L983.3,833.3 L984.8,831.4 L986.3,829.5 L987.8,827.6 L989.3,825.8 L990.8,824.0 L992.3,822.2 L993.8,820.5 L995.3,818.7 L996.8,817.0 L998.3,815.3 L999.8,813.7 L1001.3,812.0 L1002.8,810.3 L1004.3,808.6 L1005.8,807.0 L1007.3,805.3 L1008.8,803.6 L1010.3,801.9 L1011.8,800.1 L1013.3,798.4 L1014.8,796.6 L1016.3,794.8 L1017.8,793.0 L1019.3,791.2 L1020.8,789.5 L1022.3,787.8 L1023.8,786.2 L1025.3,784.7 L1026.8,783.2 L1028.3,781.8 L1029.8,780.5 L1031.3,779.2 L1032.8,778.0 L1034.3,776.8 L1035.8,775.6 L1037.3,774.5 L1038.8,773.4 L1040.3,772.3 L1041.8,771.3 L1043.3,770.4 L1044.8,769.6 L1046.3,768.8 L1047.8,768.0 L1049.3,767.4 L1050.8,766.7 L1052.3,766.2 L1053.8,765.8 L1055.3,765.5 L1056.8,765.4 L1058.3,765.3 L1059.8,765.3 L1061.3,765.3 L1062.8,765.3 L1064.3,765.3 L1065.8,765.3 L1067.3,765.3 L1068.8,765.3 L1070.3,765.3 L1071.8,765.3 L1073.3,765.3 L1074.8,765.3 L1076.3,765.3 L1077.8,765.4 L1079.3,765.5 L1080.8,765.8 L1082.3,766.3 L1083.8,766.9 L1085.3,767.7 L1086.8,768.5 L1088.3,769.5 L1089.8,770.5 L1091.3,771.6 L1092.8,772.7 L1094.3,773.8 L1095.8,775.0 L1097.3,776.1 L1098.8,777.2 L1100.3,778.4 L1101.8,779.6 L1103.3,780.9 L1104.8,782.3 L1106.3,783.7 L1107.8,785.1 L1109.3,786.6 L1110.8,788.0 L1112.3,789.3 L1113.8,790.7 L1115.3,791.9 L1116.8,793.0 L1118.3,794.1 L1119.8,795.1 L1121.3,796.0 L1122.8,796.9 L1124.3,797.8 L1125.8,798.6 L1127.3,799.4 L1128.8,800.2 L1130.3,801.0 L1131.8,801.8 L1133.3,802.6 L1134.8,803.4 L1136.3,804.2 L1137.8,805.1 L1139.3,805.9 L1140.8,806.8 L1142.3,807.7 L1143.8,808.6 L1145.3,809.5 L1146.8,810.4 L1148.3,811.2 L1149.8,812.1 L1151.3,812.9 L1152.8,813.7 L1154.3,814.5 L1155.8,815.3 L1157.3,816.0 L1158.8,816.7 L1160.3,817.3 L1161.8,818.0 L1163.3,818.7 L1164.8,819.3 L1166.3,819.9 L1167.8,820.5 L1169.3,821.1 L1170.8,821.6 L1172.3,822.1 L1173.8,822.5 L1175.3,822.9 L1176.8,823.2 L1178.3,823.5 L1179.8,823.7 L1181.3,823.9 L1182.8,824.1 L1184.3,824.3 L1185.8,824.5 L1187.3,824.7 L1188.8,824.8 L1190.3,825.0 L1191.8,825.1 L1193.3,825.3 L1194.8,825.4 L1196.3,825.6 L1197.8,825.8 L1199.3,825.9 L1200.8,826.1 L1202.3,826.3 L1203.8,826.4 L1205.3,826.6 L1206.8,826.7 L1208.3,826.9 L1209.8,827.0 L1211.3,827.2 L1212.8,827.3 L1214.3,827.5 L1215.8,827.6 L1217.3,827.7 L1218.8,827.8 L1220.3,827.9 L1221.8,828.1 L1223.3,828.2 L1224.8,828.3 L1226.3,828.4 L1227.8,828.5 L1229.3,828.6 L1230.8,828.7 L1232.3,828.8 L1233.8,828.9 L1235.3,829.0 L1236.8,829.1 L1238.3,829.1 L1239.8,829.2 L1241.3,829.2 L1242.8,829.3 L1244.3,829.3 L1245.8,829.3 L1247.3,829.3 L1248.8,829.3 L1250.3,829.3 L1251.8,829.3 L1253.3,829.3 L1254.8,829.3 L1256.3,829.3 L1257.8,829.3 L1259.3,829.3 L1260.8,829.3 L1262.3,829.3 L1263.8,829.3 L1265.3,829.3 L1266.8,829.3 L1268.3,829.3 L1269.8,829.3 L1271.3,829.3 L1272.8,829.2 L1274.3,829.1 L1275.8,829.0 L1277.3,828.9 L1278.8,828.8 L1280.3,828.6 L1281.8,828.5 L1283.3,828.4 L1284.8,828.2 L1286.3,828.1 L1287.8,828.1 L1289.3,828.1 L1290.8,828.1 L1292.3,828.3 L1293.8,828.5 L1295.3,828.8 L1296.8,829.2 L1298.3,829.6 L1299.8,830.1 L1301.3,830.6 L1302.8,831.2 L1304.3,831.6 L1305.8,832.1 L1307.3,832.6 L1308.8,833.0 L1310.3,833.5 L1311.8,833.9 L1313.3,834.4 L1314.8,834.9 L1316.3,835.3 L1317.8,835.8 L1319.3,836.2 L1320.8,836.6 L1322.3,837.0 L1323.8,837.3 L1325.3,837.6 L1326.8,837.9 L1328.3,838.2 L1329.8,838.5 L1331.3,838.7 L1332.8,839.0 L1334.3,839.3 L1335.8,839.5 L1337.3,839.7 L1338.8,839.9 L1340.3,840.1 L1341.8,840.3 L1343.3,840.5 L1344.8,840.6 L1346.3,840.7 L1347.8,840.8 L1349.3,840.9 L1350.8,841.0 L1352.3,841.0 L1353.8,841.1 L1355.3,841.1 L1356.8,841.2 L1358.3,841.2 L1359.8,841.3 L1361.3,841.3 L1362.8,841.4 L1364.3,841.4 L1365.8,841.4 L1367.3,841.4 L1368.8,841.5 L1370.3,841.5 L1371.8,841.5 L1373.3,841.5 L1374.8,841.5 L1376.3,841.5 L1377.8,841.5 L1379.3,841.5 L1380.8,841.5 L1382.3,841.5 L1383.8,841.5 L1385.3,841.5 L1386.8,841.5 L1388.3,841.5 L1389.8,841.5 L1391.3,841.5 L1392.8,841.5 L1394.3,841.5 L1395.8,841.5 L1397.3,841.5 L1398.8,841.5 L1400.3,841.5 L1401.8,841.5 L1403.3,841.5 L1404.8,841.5 L1406.3,841.5 L1407.8,841.5 L1409.3,841.5 L1410.8,841.5 L1412.3,841.5 L1413.8,841.5 L1415.3,841.5 L1416.8,841.5 L1418.3,841.5 L1419.8,841.5 L1421.3,841.5 L1422.8,841.5 L1424.3,841.5 L1425.8,841.5 L1427.3,841.4 L1428.8,841.4 L1430.3,841.3 L1431.8,841.2 L1433.3,841.2 L1434.8,841.1 L1436.3,841.0 L1437.8,840.9 L1439.3,840.8 L1440.8,840.7 L1442.3,840.6 L1443.8,840.5 L1445.3,840.3 L1446.8,840.2 L1448.3,840.1 L1449.8,840.0 L1451.3,839.9 L1452.8,839.8 L1454.3,839.6 L1455.8,839.5 L1457.3,839.4 L1458.8,839.2 L1460.3,839.1 L1461.8,838.9 L1463.3,838.8 L1464.8,838.6 L1466.3,838.4 L1467.8,838.3 L1469.3,838.1 L1470.8,837.9 L1472.3,837.8 L1473.8,837.6 L1475.3,837.4 L1476.8,837.2 L1478.3,837.0 L1479.8,836.9 L1481.3,836.7 L1482.8,836.5 L1484.3,836.3 L1485.8,836.1 L1487.3,835.9 L1488.8,835.6 L1490.3,835.4 L1491.8,835.2 L1493.3,835.0 L1494.8,834.8 L1496.3,834.6 L1497.8,834.4 L1499.3,834.2 L1500.8,834.0 L1502.3,833.8 L1503.8,833.6 L1505.3,833.4 L1506.8,833.2 L1508.3,833.0 L1509.8,832.8 L1511.3,832.6 L1512.8,832.4 L1514.3,832.2 L1515.8,832.0 L1517.3,831.8 L1518.8,831.6 L1520.3,831.5 L1521.8,831.3 L1523.3,831.2 L1524.8,831.0 L1526.3,830.9 L1527.8,830.7 L1529.3,830.6 L1530.8,830.5 L1532.3,830.5 L1533.8,830.5 L1535.3,830.6 L1536.8,830.7 L1538.3,830.9 L1539.8,831.2 L1541.3,831.4 L1542.8,831.7 L1544.3,831.9 L1545.8,832.1 L1547.3,832.2 L1548.8,832.3 L1550.3,832.4 L1551.8,832.5 L1553.3,832.6 L1554.8,832.7 L1556.3,832.7 L1557.8,832.8 L1559.3,832.9 L1560.8,833.0 L1562.3,833.1 L1563.8,833.3 L1565.3,833.4 L1566.8,833.7 L1568.3,834.0 L1569.8,834.4 L1571.3,834.9 L1572.8,835.4 L1574.3,836.0 L1575.8,836.6 L1577.3,837.3 L1578.8,837.9 L1580.3,838.5 L1581.8,839.2 L1583.3,839.8 L1584.8,840.4 L1586.3,841.0 L1587.8,841.6 L1589.3,842.2 L1590.8,842.8 L1592.3,843.4 L1593.8,844.1 L1595.3,844.8 L1596.8,845.5 L1598.3,846.2 L1599.8,846.9 L1601.3,847.7 L1602.8,848.5 L1604.3,849.3 L1605.8,850.1 L1607.3,851.0 L1608.8,851.9 L1610.3,852.8 L1611.8,853.7 L1613.3,854.7 L1614.8,855.7 L1616.3,856.8 L1617.8,857.9 L1619.3,859.1 L1620.8,860.3 L1622.3,861.5 L1623.8,862.8 L1625.3,864.0 L1626.8,865.3 L1628.3,866.6 L1629.8,867.9 L1631.3,869.2 L1632.8,870.5 L1634.3,871.8 L1635.8,873.1 L1637.3,874.4 L1638.3,875.5" fill="none" stroke="#000" stroke-width="4.6" stroke-linejoin="round"  />
</g>
<rect x="198.80" y="44.70" width="1439.20" height="1006.90" fill="none" stroke="#000" stroke-width="2.5"/>
<line x1="318.73" y1="1051.60" x2="318.73" y2="1036.10" stroke="#000" stroke-width="2.5" />
<line x1="318.73" y1="44.70" x2="318.73" y2="60.20" stroke="#000" stroke-width="2.5" />
<line x1="438.67" y1="1051.60" x2="438.67" y2="1022.00" stroke="#000" stroke-width="2.5" />
<line x1="438.67" y1="44.70" x2="438.67" y2="74.30" stroke="#000" stroke-width="2.5" />
<line x1="558.60" y1="1051.60" x2="558.60" y2="1036.10" stroke="#000" stroke-width="2.5" />
<line x1="558.60" y1="44.70" x2="558.60" y2="60.20" stroke="#000" stroke-width="2.5" />
<line x1="678.53" y1="1051.60" x2="678.53" y2="1022.00" stroke="#000" stroke-width="2.5" />
<line x1="678.53" y1="44.70" x2="678.53" y2="74.30" stroke="#000" stroke-width="2.5" />
<line x1="798.47" y1="1051.60" x2="798.47" y2="1036.10" stroke="#000" stroke-width="2.5" />
<line x1="798.47" y1="44.70" x2="798.47" y2="60.20" stroke="#000" stroke-width="2.5" />
<line x1="918.40" y1="1051.60" x2="918.40" y2="1022.00" stroke="#000" stroke-width="2.5" />
<line x1="918.40" y1="44.70" x2="918.40" y2="74.30" stroke="#000" stroke-width="2.5" />
<line x1="1038.33" y1="1051.60" x2="1038.33" y2="1036.10" stroke="#000" stroke-width="2.5" />
<line x1="1038.33" y1="44.70" x2="1038.33" y2="60.20" stroke="#000" stroke-width="2.5" />
<line x1="1158.27" y1="1051.60" x2="1158.27" y2="1022.00" stroke="#000" stroke-width="2.5" />
<line x1="1158.27" y1="44.70" x2="1158.27" y2="74.30" stroke="#000" stroke-width="2.5" />
<line x1="1278.20" y1="1051.60" x2="1278.20" y2="1036.10" stroke="#000" stroke-width="2.5" />
<line x1="1278.20" y1="44.70" x2="1278.20" y2="60.20" stroke="#000" stroke-width="2.5" />
<line x1="1398.13" y1="1051.60" x2="1398.13" y2="1022.00" stroke="#000" stroke-width="2.5" />
<line x1="1398.13" y1="44.70" x2="1398.13" y2="74.30" stroke="#000" stroke-width="2.5" />
<line x1="1518.07" y1="1051.60" x2="1518.07" y2="1036.10" stroke="#000" stroke-width="2.5" />
<line x1="1518.07" y1="44.70" x2="1518.07" y2="60.20" stroke="#000" stroke-width="2.5" />
<line x1="198.80" y1="850.92" x2="228.40" y2="850.92" stroke="#000" stroke-width="2.5" />
<line x1="1638.00" y1="850.92" x2="1608.40" y2="850.92" stroke="#000" stroke-width="2.5" />
<line x1="198.80" y1="649.54" x2="228.40" y2="649.54" stroke="#000" stroke-width="2.5" />
<line x1="1638.00" y1="649.54" x2="1608.40" y2="649.54" stroke="#000" stroke-width="2.5" />
<line x1="198.80" y1="448.16" x2="228.40" y2="448.16" stroke="#000" stroke-width="2.5" />
<line x1="1638.00" y1="448.16" x2="1608.40" y2="448.16" stroke="#000" stroke-width="2.5" />
<line x1="198.80" y1="246.78" x2="228.40" y2="246.78" stroke="#000" stroke-width="2.5" />
<line x1="1638.00" y1="246.78" x2="1608.40" y2="246.78" stroke="#000" stroke-width="2.5" />
<line x1="198.80" y1="951.61" x2="214.30" y2="951.61" stroke="#000" stroke-width="2.5" />
<line x1="1638.00" y1="951.61" x2="1622.50" y2="951.61" stroke="#000" stroke-width="2.5" />
<line x1="198.80" y1="750.23" x2="214.30" y2="750.23" stroke="#000" stroke-width="2.5" />
<line x1="1638.00" y1="750.23" x2="1622.50" y2="750.23" stroke="#000" stroke-width="2.5" />
<line x1="198.80" y1="548.85" x2="214.30" y2="548.85" stroke="#000" stroke-width="2.5" />
<line x1="1638.00" y1="548.85" x2="1622.50" y2="548.85" stroke="#000" stroke-width="2.5" />
<line x1="198.80" y1="347.47" x2="214.30" y2="347.47" stroke="#000" stroke-width="2.5" />
<line x1="1638.00" y1="347.47" x2="1622.50" y2="347.47" stroke="#000" stroke-width="2.5" />
<line x1="198.80" y1="146.09" x2="214.30" y2="146.09" stroke="#000" stroke-width="2.5" />
<line x1="1638.00" y1="146.09" x2="1622.50" y2="146.09" stroke="#000" stroke-width="2.5" />
<text x="198.80" y="1102.70" font-size="52.80" text-anchor="middle" >0</text>
<text x="438.67" y="1102.70" font-size="52.80" text-anchor="middle" >60</text>
<text x="678.53" y="1102.70" font-size="52.80" text-anchor="middle" >120</text>
<text x="918.40" y="1102.70" font-size="52.80" text-anchor="middle" >180</text>
<text x="1158.27" y="1102.70" font-size="52.80" text-anchor="middle" >240</text>
<text x="1398.13" y="1102.70" font-size="52.80" text-anchor="middle" >300</text>
<text x="1638.00" y="1102.70" font-size="52.80" text-anchor="middle" >360</text>
<text x="189.40" y="1069.60" font-size="52.80" text-anchor="end" >-0.1</text>
<text x="186.80" y="868.22" font-size="52.80" text-anchor="end" >0</text>
<text x="189.40" y="666.84" font-size="52.80" text-anchor="end" >0.1</text>
<text x="186.80" y="465.46" font-size="52.80" text-anchor="end" >0.2</text>
<text x="186.80" y="264.08" font-size="52.80" text-anchor="end" >0.3</text>
<text x="186.80" y="62.70" font-size="52.80" text-anchor="end" >0.4</text>
<text x="922.40" y="1165.10" font-size="69.00" text-anchor="middle" textLength="482.3">Angle [ degrees ]</text>
<text transform="translate(76.90,545.05) rotate(-90)" font-size="69.00" text-anchor="middle" textLength="640.2">Torque coefficient [ - ]</text>
<line x1="1218.10" y1="147.00" x2="1309.80" y2="147.00" stroke="#000" stroke-width="5.0" stroke-dasharray="33.0 14.0 5.0 14.0" stroke-dashoffset="47.0"/>
<line x1="1218.10" y1="198.70" x2="1309.80" y2="198.70" stroke="#000" stroke-width="5.0" />
<line x1="1218.10" y1="250.50" x2="1309.80" y2="250.50" stroke="#000" stroke-width="5.0" stroke-dasharray="33.0 14.0"/>
<text x="1338.40" y="168.10" font-size="50.30" text-anchor="start" >Tu 1%</text>
<text x="1338.40" y="217.40" font-size="50.30" text-anchor="start" >Tu 10%</text>
<text x="1338.40" y="268.60" font-size="50.30" text-anchor="start" >Tu 20%</text>
</g>
<g id="plot2">
<g clip-path="url(#c2)">
<path d="M186.1,1500.0 L187.6,1509.5 L189.1,1518.1 L190.6,1526.8 L192.1,1535.6 L193.6,1544.5 L195.1,1553.3 L196.6,1562.1 L198.1,1570.9 L199.6,1579.7 L201.1,1588.4 L202.6,1597.1 L204.1,1605.8 L205.6,1614.4 L207.1,1623.0 L208.6,1631.5 L210.1,1639.9 L211.6,1648.1 L213.1,1656.2 L214.6,1664.3 L216.1,1672.4 L217.6,1680.4 L219.1,1688.6 L220.6,1697.0 L222.1,1705.6 L223.6,1714.7 L225.1,1724.1 L226.6,1733.7 L228.1,1743.6 L229.6,1753.6 L231.1,1763.7 L232.6,1773.4 L234.1,1782.6 L235.6,1791.1 L237.1,1799.0 L238.6,1806.6 L240.1,1814.0 L241.6,1821.2 L243.1,1828.4 L244.6,1835.6 L246.1,1842.9 L247.6,1850.3 L249.1,1857.8 L250.6,1865.4 L252.1,1873.0 L253.6,1880.5 L255.1,1888.0 L256.6,1895.4 L258.1,1902.7 L259.6,1909.9 L261.1,1917.0 L262.6,1924.0 L264.1,1930.9 L265.6,1937.7 L267.1,1944.3 L268.6,1950.7 L270.1,1957.0 L271.6,1963.0 L273.1,1968.9 L274.6,1974.9 L276.1,1981.4 L277.6,1988.6 L279.1,1996.4 L280.6,2004.8 L282.1,2013.5 L283.6,2022.2 L285.1,2030.6 L286.6,2038.3 L288.1,2045.3 L289.6,2051.3 L291.1,2056.6 L292.6,2061.2 L294.1,2065.5 L295.6,2069.5 L297.1,2073.5 L298.6,2077.4 L300.1,2081.4 L301.6,2085.3 L303.1,2089.2 L304.6,2093.1 L306.1,2096.9 L307.6,2100.7 L309.1,2104.4 L310.6,2108.2 L312.1,2111.9 L313.6,2115.6 L315.1,2119.2 L316.6,2122.4 L318.1,2125.4 L319.6,2128.0 L321.1,2130.4 L322.6,2132.6 L324.1,2134.6 L325.6,2136.3 L327.1,2137.9 L328.6,2139.3 L330.1,2140.7 L331.6,2141.9 L333.1,2143.1 L334.6,2144.2 L336.1,2145.0 L337.6,2145.7 L339.1,2146.1 L340.6,2146.3 L342.1,2146.3 L343.6,2146.2 L345.1,2146.1 L346.6,2145.9 L348.1,2145.7 L349.6,2145.4 L351.1,2145.1 L352.6,2144.7 L354.1,2144.0 L355.6,2143.2 L357.1,2142.0 L358.6,2140.7 L360.1,2139.2 L361.6,2137.6 L363.1,2135.9 L364.6,2134.1 L366.1,2132.3 L367.6,2130.3 L369.1,2128.2 L370.6,2125.9 L372.1,2123.4 L373.6,2120.7 L375.1,2117.8 L376.6,2114.5 L378.1,2111.0 L379.6,2107.2 L381.1,2103.2 L382.6,2098.9 L384.1,2094.2 L385.6,2089.4 L387.1,2084.6 L388.6,2079.9 L390.1,2075.5 L391.6,2071.4 L393.1,2067.5 L394.6,2063.7 L396.1,2059.6 L397.6,2055.0 L399.1,2049.7 L400.6,2043.6 L402.1,2037.1 L403.6,2030.5 L405.1,2024.5 L406.6,2018.9 L408.1,2013.5 L409.6,2007.8 L411.1,2001.5 L412.6,1994.5 L414.1,1986.9 L415.6,1979.1 L417.1,1971.4 L418.6,1964.4 L420.1,1958.2 L421.6,1952.8 L423.1,1947.4 L424.6,1941.8 L426.1,1935.5 L427.6,1928.4 L429.1,1920.4 L430.6,1911.5 L432.1,1901.6 L433.6,1891.4 L435.1,1881.5 L436.6,1872.3 L438.1,1863.8 L439.6,1856.0 L441.1,1848.8 L442.6,1841.9 L444.1,1834.7 L445.6,1826.6 L447.1,1817.6 L448.6,1808.3 L450.1,1799.6 L451.6,1792.3 L453.1,1786.3 L454.6,1780.9 L456.1,1775.3 L457.6,1769.1 L459.1,1761.9 L460.6,1754.0 L462.1,1745.6 L463.6,1737.2 L465.1,1728.7 L466.6,1720.2 L468.1,1711.7 L469.6,1703.2 L471.1,1694.7 L472.6,1686.1 L474.1,1677.5 L475.6,1668.9 L477.1,1660.3 L478.6,1651.7 L480.1,1643.0 L481.6,1634.3 L483.1,1625.6 L484.6,1616.9 L486.1,1608.2 L487.6,1599.5 L489.1,1590.9 L490.6,1582.2 L492.1,1573.6 L493.6,1565.1 L495.1,1556.7 L496.6,1548.4 L498.1,1540.4 L499.6,1532.6 L501.1,1525.0 L502.6,1517.5 L504.1,1510.0 L505.6,1502.4 L507.1,1494.8 L508.6,1487.1 L510.1,1479.4 L511.6,1471.6 L513.1,1463.8 L514.6,1456.1 L516.1,1448.7 L517.6,1441.5 L519.1,1434.5 L520.6,1427.7 L522.1,1421.1 L523.6,1414.6 L525.1,1408.3 L526.6,1402.1 L528.1,1396.1 L529.6,1390.2 L531.1,1384.3 L532.6,1378.3 L534.1,1372.0 L535.6,1365.2 L537.1,1358.2 L538.6,1350.8 L540.1,1343.3 L541.6,1335.7 L543.1,1328.2 L544.6,1321.0 L546.1,1314.1 L547.6,1307.6 L549.1,1301.8 L550.6,1296.5 L552.1,1291.8 L553.6,1287.5 L555.1,1283.4 L556.6,1279.3 L558.1,1275.3 L559.6,1271.5 L561.1,1268.1 L562.6,1265.3 L564.1,1262.9 L565.6,1260.8 L567.1,1258.9 L568.6,1257.1 L570.1,1255.3 L571.6,1253.5 L573.1,1251.8 L574.6,1250.3 L576.1,1248.9 L577.6,1247.7 L579.1,1246.5 L580.6,1245.5 L582.1,1244.6 L583.6,1243.9 L585.1,1243.5 L586.6,1243.5 L588.1,1243.7 L589.6,1244.4 L591.1,1245.3 L592.6,1246.5 L594.1,1247.9 L595.6,1249.5 L597.1,1251.5 L598.6,1253.8 L600.1,1256.5 L601.6,1259.6 L603.1,1262.9 L604.6,1266.5 L606.1,1270.4 L607.6,1274.5 L609.1,1278.9 L610.6,1283.5 L612.1,1288.5 L613.6,1294.1 L615.1,1300.5 L616.6,1307.7 L618.1,1314.8 L619.6,1321.4 L621.1,1327.4 L622.6,1332.9 L624.1,1338.3 L625.6,1343.6 L627.1,1349.1 L628.6,1354.9 L630.1,1361.3 L631.6,1368.5 L633.1,1376.2 L634.6,1384.4 L636.1,1392.8 L637.6,1401.2 L639.1,1409.2 L640.6,1416.8 L642.1,1423.8 L643.6,1430.3 L645.1,1436.4 L646.6,1442.4 L648.1,1448.3 L649.6,1454.2 L651.1,1460.1 L652.6,1466.0 L654.1,1471.8 L655.6,1477.7 L657.1,1483.6 L658.6,1489.8 L660.1,1496.2 L661.6,1503.0 L663.1,1510.2 L664.6,1517.7 L666.1,1525.4 L667.6,1533.5 L669.1,1541.6 L670.6,1549.6 L672.1,1557.3 L673.6,1564.7 L675.1,1571.8 L676.6,1578.9 L678.1,1586.0 L679.6,1593.2 L681.1,1600.5 L682.6,1608.0 L684.1,1615.7 L685.6,1623.6 L687.1,1631.6 L688.6,1639.4 L690.1,1646.9 L691.6,1654.2 L693.1,1661.2 L694.6,1668.2 L696.1,1675.5 L697.6,1683.0 L699.1,1690.7 L700.6,1698.9 L702.1,1707.4 L703.6,1716.3 L705.1,1725.4 L706.6,1734.3 L708.1,1743.0 L709.6,1751.3 L711.1,1759.2 L712.6,1767.1 L714.1,1774.8 L715.6,1782.6 L717.1,1790.3 L718.6,1797.9 L720.1,1805.4 L721.6,1812.9 L723.1,1820.4 L724.6,1827.8 L726.1,1835.3 L727.6,1842.8 L729.1,1850.3 L730.6,1857.8 L732.1,1865.3 L733.6,1872.9 L735.1,1880.4 L736.6,1887.9 L738.1,1895.3 L739.6,1902.7 L741.1,1910.1 L742.6,1917.4 L744.1,1924.6 L745.6,1931.9 L747.1,1939.0 L748.6,1946.1 L750.1,1953.1 L751.6,1959.9 L753.1,1966.7 L754.6,1973.3 L756.1,1979.8 L757.6,1986.3 L759.1,1992.6 L760.6,1998.9 L762.1,2005.0 L763.6,2011.1 L765.1,2017.2 L766.6,2023.2 L768.1,2029.4 L769.6,2035.8 L771.1,2042.3 L772.6,2049.0 L774.1,2055.7 L775.6,2062.3 L777.1,2068.9 L778.6,2075.4 L780.1,2081.5 L781.6,2087.4 L783.1,2092.9 L784.6,2098.0 L786.1,2102.7 L787.6,2107.1 L789.1,2111.2 L790.6,2115.1 L792.1,2118.9 L793.6,2122.5 L795.1,2126.1 L796.6,2129.6 L798.1,2132.9 L799.6,2136.0 L801.1,2138.8 L802.6,2141.3 L804.1,2143.7 L805.6,2145.9 L807.1,2148.0 L808.6,2150.1 L810.1,2152.2 L811.6,2154.2 L813.1,2156.3 L814.6,2158.2 L816.1,2159.7 L817.6,2160.9 L819.1,2161.7 L820.6,2162.2 L822.1,2162.6 L823.6,2162.9 L825.1,2163.1 L826.6,2163.1 L828.1,2163.1 L829.6,2162.8 L831.1,2162.2 L832.6,2161.5 L834.1,2160.6 L835.6,2159.6 L837.1,2158.7 L838.6,2157.7 L840.1,2156.7 L841.6,2155.7 L843.1,2154.6 L844.6,2153.4 L846.1,2152.1 L847.6,2150.6 L849.1,2149.0 L850.6,2147.1 L852.1,2144.9 L853.6,2142.5 L855.1,2139.7 L856.6,2136.7 L858.1,2133.5 L859.6,2129.9 L861.1,2126.1 L862.6,2121.9 L864.1,2117.6 L865.6,2113.1 L867.1,2108.4 L868.6,2103.7 L870.1,2098.9 L871.6,2094.1 L873.1,2089.3 L874.6,2084.7 L876.1,2080.1 L877.6,2075.6 L879.1,2071.1 L880.6,2066.6 L882.1,2062.0 L883.6,2057.4 L885.1,2053.1 L886.6,2049.1 L888.1,2045.3 L889.6,2041.3 L891.1,2036.4 L892.6,2030.2 L894.1,2023.0 L895.6,2015.5 L897.1,2008.1 L898.6,2001.4 L900.1,1995.3 L901.6,1989.8 L903.1,1984.3 L904.6,1978.4 L906.1,1971.7 L907.6,1964.1 L909.1,1955.9 L910.6,1947.1 L912.1,1938.0 L913.6,1928.8 L915.1,1919.9 L916.6,1911.4 L918.1,1903.3 L919.6,1895.5 L921.1,1887.6 L922.6,1879.8 L924.1,1871.8 L925.6,1863.6 L927.1,1855.3 L928.6,1846.9 L930.1,1838.9 L931.6,1831.8 L933.1,1825.4 L934.6,1819.5 L936.1,1813.5 L937.6,1806.4 L939.1,1797.6 L940.6,1787.2 L942.1,1776.5 L943.6,1766.9 L945.1,1759.0 L946.6,1752.6 L948.1,1746.8 L949.6,1740.6 L951.1,1733.7 L952.6,1725.7 L954.1,1716.6 L955.6,1706.7 L957.1,1696.2 L958.6,1685.5 L960.1,1674.8 L961.6,1664.6 L963.1,1654.8 L964.6,1645.4 L966.1,1636.1 L967.6,1627.1 L969.1,1618.1 L970.6,1609.2 L972.1,1600.4 L973.6,1591.7 L975.1,1583.0 L976.6,1574.5 L978.1,1565.9 L979.6,1557.4 L981.1,1548.8 L982.6,1540.3 L984.1,1531.7 L985.6,1523.1 L987.1,1514.5 L988.6,1506.0 L990.1,1497.6 L991.6,1489.5 L993.1,1481.6 L994.6,1474.0 L996.1,1466.5 L997.6,1459.1 L999.1,1452.0 L1000.6,1444.9 L1002.1,1438.1 L1003.6,1431.3 L1005.1,1424.8 L1006.6,1418.3 L1008.1,1411.9 L1009.6,1405.6 L1011.1,1399.3 L1012.6,1393.1 L1014.1,1387.0 L1015.6,1381.1 L1017.1,1375.2 L1018.6,1369.5 L1020.1,1363.8 L1021.6,1358.3 L1023.1,1352.8 L1024.6,1347.5 L1026.1,1342.0 L1027.6,1336.6 L1029.1,1331.0 L1030.6,1325.2 L1032.1,1319.5 L1033.6,1313.7 L1035.1,1307.9 L1036.6,1302.3 L1038.1,1296.9 L1039.6,1291.7 L1041.1,1286.8 L1042.6,1282.2 L1044.1,1278.1 L1045.6,1274.2 L1047.1,1270.7 L1048.6,1267.5 L1050.1,1264.4 L1051.6,1261.6 L1053.1,1258.9 L1054.6,1256.5 L1056.1,1254.3 L1057.6,1252.3 L1059.1,1250.4 L1060.6,1248.7 L1062.1,1247.2 L1063.6,1245.8 L1065.1,1244.6 L1066.6,1243.6 L1068.1,1243.1 L1069.6,1243.0 L1071.1,1243.4 L1072.6,1244.1 L1074.1,1245.1 L1075.6,1246.4 L1077.1,1247.9 L1078.6,1249.7 L1080.1,1251.9 L1081.6,1254.5 L1083.1,1257.4 L1084.6,1260.3 L1086.1,1263.0 L1087.6,1265.7 L1089.1,1268.6 L1090.6,1271.8 L1092.1,1275.3 L1093.6,1279.0 L1095.1,1282.8 L1096.6,1286.4 L1098.1,1290.1 L1099.6,1293.8 L1101.1,1297.9 L1102.6,1302.5 L1104.1,1307.8 L1105.6,1313.6 L1107.1,1319.9 L1108.6,1326.4 L1110.1,1333.0 L1111.6,1339.5 L1113.1,1345.7 L1114.6,1351.7 L1116.1,1357.4 L1117.6,1363.1 L1119.1,1368.9 L1120.6,1374.7 L1122.1,1380.6 L1123.6,1386.6 L1125.1,1392.7 L1126.6,1398.9 L1128.1,1405.3 L1129.6,1411.7 L1131.1,1418.3 L1132.6,1425.0 L1134.1,1431.8 L1135.6,1438.7 L1137.1,1445.6 L1138.6,1452.6 L1140.1,1459.7 L1141.6,1466.8 L1143.1,1473.9 L1144.6,1481.0 L1146.1,1488.1 L1147.6,1495.3 L1149.1,1502.4 L1150.6,1509.6 L1152.1,1516.8 L1153.6,1524.0 L1155.1,1531.2 L1156.6,1538.5 L1158.1,1545.7 L1159.6,1553.0 L1161.1,1560.3 L1162.6,1567.7 L1164.1,1575.1 L1165.6,1582.5 L1167.1,1589.9 L1168.6,1597.3 L1170.1,1604.8 L1171.6,1612.3 L1173.1,1619.9 L1174.6,1627.5 L1176.1,1635.1 L1177.6,1642.8 L1179.1,1650.5 L1180.6,1658.2 L1182.1,1666.0 L1183.6,1673.8 L1185.1,1681.7 L1186.6,1689.6 L1188.1,1697.5 L1189.6,1705.5 L1191.1,1713.7 L1192.6,1721.9 L1194.1,1730.4 L1195.6,1738.9 L1197.1,1747.4 L1198.6,1756.0 L1200.1,1764.6 L1201.6,1773.0 L1203.1,1781.3 L1204.6,1789.3 L1206.1,1797.0 L1207.6,1804.6 L1209.1,1812.1 L1210.6,1819.6 L1212.1,1827.0 L1213.6,1834.4 L1215.1,1841.8 L1216.6,1849.3 L1218.1,1856.9 L1219.6,1864.5 L1221.1,1872.0 L1222.6,1879.6 L1224.1,1887.0 L1225.6,1894.4 L1227.1,1901.7 L1228.6,1908.9 L1230.1,1915.9 L1231.6,1922.8 L1233.1,1929.6 L1234.6,1936.2 L1236.1,1942.7 L1237.6,1949.6 L1239.1,1957.1 L1240.6,1965.7 L1242.1,1975.6 L1243.6,1986.3 L1245.1,1997.2 L1246.6,2007.7 L1248.1,2017.0 L1249.6,2024.8 L1251.1,2031.3 L1252.6,2036.8 L1254.1,2041.8 L1255.6,2046.6 L1257.1,2051.2 L1258.6,2055.7 L1260.1,2060.4 L1261.6,2065.4 L1263.1,2070.9 L1264.6,2076.8 L1266.1,2082.7 L1267.6,2088.3 L1269.1,2093.5 L1270.6,2098.3 L1272.1,2102.9 L1273.6,2107.2 L1275.1,2111.3 L1276.6,2115.2 L1278.1,2118.9 L1279.6,2122.4 L1281.1,2125.8 L1282.6,2129.0 L1284.1,2132.0 L1285.6,2134.8 L1287.1,2137.4 L1288.6,2139.9 L1290.1,2142.2 L1291.6,2144.5 L1293.1,2146.6 L1294.6,2148.6 L1296.1,2150.4 L1297.6,2151.9 L1299.1,2153.2 L1300.6,2154.3 L1302.1,2155.2 L1303.6,2156.0 L1305.1,2156.7 L1306.6,2157.3 L1308.1,2157.9 L1309.6,2158.2 L1311.1,2158.5 L1312.6,2158.5 L1314.1,2158.3 L1315.6,2157.9 L1317.1,2157.4 L1318.6,2156.6 L1320.1,2155.8 L1321.6,2154.8 L1323.1,2153.8 L1324.6,2152.7 L1326.1,2151.4 L1327.6,2150.1 L1329.1,2148.5 L1330.6,2146.8 L1332.1,2144.9 L1333.6,2142.9 L1335.1,2140.7 L1336.6,2138.4 L1338.1,2135.9 L1339.6,2133.3 L1341.1,2130.4 L1342.6,2127.2 L1344.1,2123.6 L1345.6,2119.8 L1347.1,2115.8 L1348.6,2111.6 L1350.1,2107.2 L1351.6,2102.6 L1353.1,2098.0 L1354.6,2093.5 L1356.1,2089.4 L1357.6,2085.8 L1359.1,2082.6 L1360.6,2079.6 L1362.1,2076.6 L1363.6,2073.2 L1365.1,2068.9 L1366.6,2063.6 L1368.1,2057.3 L1369.6,2050.5 L1371.1,2043.7 L1372.6,2037.4 L1374.1,2031.6 L1375.6,2026.1 L1377.1,2020.8 L1378.6,2015.5 L1380.1,2009.9 L1381.6,2004.1 L1383.1,1997.8 L1384.6,1990.7 L1386.1,1983.1 L1387.6,1975.6 L1389.1,1969.0 L1390.6,1963.4 L1392.1,1957.9 L1393.6,1952.1 L1395.1,1945.7 L1396.6,1938.9 L1398.1,1931.7 L1399.6,1924.2 L1401.1,1916.4 L1402.6,1908.0 L1404.1,1898.9 L1405.6,1889.3 L1407.1,1879.8 L1408.6,1870.9 L1410.1,1862.7 L1411.6,1855.0 L1413.1,1847.4 L1414.6,1839.6 L1416.1,1831.4 L1417.6,1823.3 L1419.1,1815.5 L1420.6,1808.3 L1422.1,1801.9 L1423.6,1795.8 L1425.1,1789.6 L1426.6,1783.0 L1428.1,1775.6 L1429.6,1767.6 L1431.1,1759.0 L1432.6,1750.0 L1434.1,1740.9 L1435.6,1732.2 L1437.1,1724.1 L1438.6,1716.5 L1440.1,1708.4 L1441.6,1699.3 L1443.1,1689.1 L1444.6,1678.6 L1446.1,1668.5 L1447.6,1658.7 L1449.1,1649.2 L1450.6,1639.9 L1452.1,1630.8 L1453.6,1621.8 L1455.1,1612.9 L1456.6,1603.9 L1458.1,1594.9 L1459.6,1585.9 L1461.1,1576.8 L1462.6,1567.8 L1464.1,1558.8 L1465.6,1549.8 L1467.1,1540.9 L1468.6,1532.1 L1470.1,1523.4 L1471.6,1514.8 L1473.1,1506.3 L1474.6,1497.9 L1476.1,1489.6 L1477.6,1481.3 L1479.1,1473.2 L1480.6,1465.2 L1482.1,1457.3 L1483.6,1449.5 L1485.1,1441.8 L1486.6,1434.2 L1488.1,1426.7 L1489.6,1419.4 L1491.1,1412.4 L1492.6,1405.6 L1494.1,1399.3 L1495.6,1393.2 L1497.1,1387.5 L1498.6,1382.0 L1500.1,1376.7 L1501.6,1371.6 L1503.1,1366.7 L1504.6,1362.0 L1506.1,1357.4 L1507.6,1352.9 L1509.1,1348.4 L1510.6,1344.1 L1512.1,1339.8 L1513.6,1335.6 L1515.1,1331.4 L1516.6,1327.2 L1518.1,1323.0 L1519.6,1318.8 L1521.1,1314.5 L1522.6,1310.2 L1524.1,1305.8 L1525.6,1301.4 L1527.1,1297.0 L1528.6,1292.6 L1530.1,1288.3 L1531.6,1284.3 L1533.1,1280.4 L1534.6,1276.7 L1536.1,1273.2 L1537.6,1269.9 L1539.1,1266.6 L1540.6,1263.5 L1542.1,1260.6 L1543.6,1258.0 L1545.1,1255.5 L1546.6,1253.2 L1548.1,1251.0 L1549.6,1248.8 L1551.1,1246.8 L1552.6,1244.9 L1554.1,1243.4 L1555.6,1242.3 L1557.1,1241.6 L1558.6,1241.3 L1560.1,1241.4 L1561.6,1241.7 L1563.1,1242.1 L1564.6,1242.8 L1566.1,1243.5 L1567.6,1244.5 L1569.1,1245.7 L1570.6,1247.5 L1572.1,1250.0 L1573.6,1253.3 L1575.1,1257.2 L1576.6,1261.5 L1578.1,1265.9 L1579.6,1270.4 L1581.1,1275.1 L1582.6,1280.0 L1584.1,1285.0 L1585.6,1290.3 L1587.1,1295.9 L1588.6,1301.6 L1590.1,1307.5 L1591.6,1313.5 L1593.1,1319.6 L1594.6,1325.8 L1596.1,1332.1 L1597.6,1338.4 L1599.1,1344.8 L1600.6,1351.1 L1602.1,1357.4 L1603.6,1363.6 L1605.1,1369.6 L1606.6,1375.6 L1608.1,1381.5 L1609.6,1387.5 L1611.1,1393.6 L1612.6,1399.7 L1614.1,1406.0 L1615.6,1412.2 L1617.1,1418.6 L1618.6,1425.1 L1620.1,1431.5 L1621.6,1437.9 L1623.1,1444.2 L1624.6,1450.5 L1626.1,1456.7 L1627.6,1462.9 L1629.1,1468.9 L1630.6,1474.9 L1632.1,1480.9 L1633.6,1486.9 L1635.1,1493.0 L1636.6,1498.9 L1638.1,1504.9 L1639.5,1511.1" fill="none" stroke="#000" stroke-width="4.6" stroke-linejoin="round" stroke-dasharray="25 14 5 14" stroke-dashoffset="10" />
<path d="M188.6,1500.0 L190.1,1509.3 L191.6,1517.8 L193.1,1526.2 L194.6,1534.8 L196.1,1543.3 L197.6,1551.6 L199.1,1559.9 L200.6,1568.2 L202.1,1576.4 L203.6,1584.6 L205.1,1592.7 L206.6,1600.7 L208.1,1608.8 L209.6,1616.8 L211.1,1624.7 L212.6,1632.6 L214.1,1640.4 L215.6,1648.1 L217.1,1655.7 L218.6,1663.4 L220.1,1671.3 L221.6,1679.6 L223.1,1688.3 L224.6,1697.2 L226.1,1706.3 L227.6,1715.4 L229.1,1724.3 L230.6,1733.0 L232.1,1741.2 L233.6,1748.8 L235.1,1755.9 L236.6,1762.4 L238.1,1768.6 L239.6,1774.6 L241.1,1780.3 L242.6,1786.0 L244.1,1791.8 L245.6,1797.7 L247.1,1804.0 L248.6,1810.5 L250.1,1817.2 L251.6,1824.2 L253.1,1831.3 L254.6,1838.3 L256.1,1845.1 L257.6,1851.7 L259.1,1858.1 L260.6,1864.3 L262.1,1870.4 L263.6,1876.4 L265.1,1882.3 L266.6,1888.1 L268.1,1893.9 L269.6,1899.7 L271.1,1905.4 L272.6,1911.0 L274.1,1916.5 L275.6,1922.0 L277.1,1927.4 L278.6,1932.7 L280.1,1937.9 L281.6,1943.0 L283.1,1948.0 L284.6,1953.0 L286.1,1957.8 L287.6,1962.6 L289.1,1967.3 L290.6,1971.8 L292.1,1976.3 L293.6,1980.7 L295.1,1985.0 L296.6,1989.2 L298.1,1993.3 L299.6,1997.3 L301.1,2001.1 L302.6,2004.8 L304.1,2008.3 L305.6,2011.8 L307.1,2015.2 L308.6,2018.5 L310.1,2021.7 L311.6,2024.8 L313.1,2027.8 L314.6,2030.6 L316.1,2033.2 L317.6,2035.6 L319.1,2037.8 L320.6,2039.9 L322.1,2041.9 L323.6,2043.8 L325.1,2045.5 L326.6,2047.1 L328.1,2048.6 L329.6,2049.9 L331.1,2051.1 L332.6,2052.2 L334.1,2053.2 L335.6,2054.3 L337.1,2055.2 L338.6,2056.0 L340.1,2056.8 L341.6,2057.3 L343.1,2057.7 L344.6,2057.8 L346.1,2057.8 L347.6,2057.6 L349.1,2057.3 L350.6,2056.9 L352.1,2056.3 L353.6,2055.7 L355.1,2055.0 L356.6,2054.1 L358.1,2053.3 L359.6,2052.3 L361.1,2051.2 L362.6,2049.9 L364.1,2048.3 L365.6,2046.3 L367.1,2044.0 L368.6,2041.4 L370.1,2038.6 L371.6,2035.7 L373.1,2032.7 L374.6,2029.7 L376.1,2026.6 L377.6,2023.3 L379.1,2019.8 L380.6,2016.3 L382.1,2012.6 L383.6,2009.0 L385.1,2005.3 L386.6,2001.5 L388.1,1997.7 L389.6,1993.9 L391.1,1990.0 L392.6,1986.1 L394.1,1982.2 L395.6,1978.4 L397.1,1974.6 L398.6,1970.9 L400.1,1967.2 L401.6,1963.6 L403.1,1959.8 L404.6,1956.1 L406.1,1952.2 L407.6,1948.3 L409.1,1944.2 L410.6,1940.0 L412.1,1935.6 L413.6,1930.7 L415.1,1925.3 L416.6,1919.3 L418.1,1912.9 L419.6,1906.3 L421.1,1899.6 L422.6,1892.9 L424.1,1886.1 L425.6,1879.3 L427.1,1872.3 L428.6,1865.2 L430.1,1858.1 L431.6,1850.7 L433.1,1843.3 L434.6,1835.7 L436.1,1828.1 L437.6,1820.5 L439.1,1813.1 L440.6,1805.9 L442.1,1798.9 L443.6,1792.4 L445.1,1786.5 L446.6,1781.1 L448.1,1776.1 L449.6,1771.3 L451.1,1766.6 L452.6,1761.9 L454.1,1757.2 L455.6,1752.6 L457.1,1747.9 L458.6,1743.2 L460.1,1738.2 L461.6,1732.8 L463.1,1727.1 L464.6,1720.9 L466.1,1714.3 L467.6,1707.5 L469.1,1700.5 L470.6,1693.3 L472.1,1685.9 L473.6,1678.2 L475.1,1670.4 L476.6,1662.3 L478.1,1654.1 L479.6,1645.7 L481.1,1637.2 L482.6,1628.6 L484.1,1619.9 L485.6,1611.2 L487.1,1602.5 L488.6,1593.7 L490.1,1585.1 L491.6,1576.4 L493.1,1567.9 L494.6,1559.5 L496.1,1551.2 L497.6,1543.1 L499.1,1535.2 L500.6,1527.5 L502.1,1520.0 L503.6,1512.5 L505.1,1505.0 L506.6,1497.3 L508.1,1489.6 L509.6,1481.9 L511.1,1474.2 L512.6,1466.4 L514.1,1458.7 L515.6,1451.1 L517.1,1443.7 L518.6,1436.6 L520.1,1429.7 L521.6,1423.3 L523.1,1417.3 L524.6,1411.6 L526.1,1406.2 L527.6,1401.1 L529.1,1396.0 L530.6,1391.2 L532.1,1386.4 L533.6,1381.9 L535.1,1377.4 L536.6,1373.1 L538.1,1368.8 L539.6,1364.7 L541.1,1360.6 L542.6,1356.7 L544.1,1352.8 L545.6,1349.1 L547.1,1345.4 L548.6,1341.9 L550.1,1338.4 L551.6,1335.1 L553.1,1331.9 L554.6,1328.7 L556.1,1325.6 L557.6,1322.4 L559.1,1319.1 L560.6,1315.9 L562.1,1312.7 L563.6,1309.8 L565.1,1307.2 L566.6,1305.1 L568.1,1303.2 L569.6,1301.4 L571.1,1299.8 L572.6,1298.3 L574.1,1297.0 L575.6,1295.9 L577.1,1295.0 L578.6,1294.4 L580.1,1294.1 L581.6,1293.9 L583.1,1293.7 L584.6,1293.7 L586.1,1293.8 L587.6,1294.0 L589.1,1294.6 L590.6,1295.5 L592.1,1296.7 L593.6,1298.2 L595.1,1299.8 L596.6,1301.6 L598.1,1303.7 L599.6,1306.0 L601.1,1308.5 L602.6,1311.1 L604.1,1313.7 L605.6,1316.2 L607.1,1318.6 L608.6,1320.9 L610.1,1323.0 L611.6,1324.9 L613.1,1326.9 L614.6,1328.8 L616.1,1330.8 L617.6,1333.0 L619.1,1335.3 L620.6,1338.0 L622.1,1341.1 L623.6,1344.8 L625.1,1349.1 L626.6,1353.7 L628.1,1358.5 L629.6,1363.3 L631.1,1367.9 L632.6,1372.6 L634.1,1377.3 L635.6,1382.0 L637.1,1386.8 L638.6,1391.7 L640.1,1396.7 L641.6,1401.8 L643.1,1407.1 L644.6,1412.7 L646.1,1418.4 L647.6,1424.3 L649.1,1430.2 L650.6,1436.2 L652.1,1442.3 L653.6,1448.3 L655.1,1454.3 L656.6,1460.2 L658.1,1466.0 L659.6,1471.8 L661.1,1477.7 L662.6,1483.6 L664.1,1489.7 L665.6,1496.1 L667.1,1502.9 L668.6,1510.1 L670.1,1517.7 L671.6,1525.6 L673.1,1533.5 L674.6,1541.5 L676.1,1549.4 L677.6,1557.2 L679.1,1564.7 L680.6,1571.9 L682.1,1578.9 L683.6,1585.9 L685.1,1593.1 L686.6,1600.5 L688.1,1608.1 L689.6,1615.8 L691.1,1623.6 L692.6,1631.5 L694.1,1639.3 L695.6,1647.0 L697.1,1654.4 L698.6,1661.3 L700.1,1668.1 L701.6,1675.3 L703.1,1683.4 L704.6,1692.8 L706.1,1703.5 L707.6,1715.0 L709.1,1726.6 L710.6,1737.7 L712.1,1747.9 L713.6,1757.1 L715.1,1765.5 L716.6,1773.3 L718.1,1780.8 L719.6,1788.0 L721.1,1794.9 L722.6,1801.6 L724.1,1808.2 L725.6,1814.6 L727.1,1820.9 L728.6,1827.2 L730.1,1833.5 L731.6,1839.8 L733.1,1846.2 L734.6,1852.6 L736.1,1859.0 L737.6,1865.3 L739.1,1871.6 L740.6,1877.8 L742.1,1883.9 L743.6,1890.0 L745.1,1895.9 L746.6,1901.8 L748.1,1907.5 L749.6,1913.0 L751.1,1918.5 L752.6,1923.7 L754.1,1928.8 L755.6,1933.8 L757.1,1938.6 L758.6,1943.3 L760.1,1947.9 L761.6,1952.4 L763.1,1956.9 L764.6,1961.5 L766.1,1966.0 L767.6,1970.6 L769.1,1975.3 L770.6,1979.9 L772.1,1984.5 L773.6,1989.1 L775.1,1993.6 L776.6,1997.9 L778.1,2002.1 L779.6,2006.2 L781.1,2010.2 L782.6,2014.2 L784.1,2018.1 L785.6,2021.8 L787.1,2025.5 L788.6,2028.9 L790.1,2032.3 L791.6,2035.4 L793.1,2038.3 L794.6,2041.2 L796.1,2043.9 L797.6,2046.6 L799.1,2049.2 L800.6,2051.7 L802.1,2054.0 L803.6,2056.3 L805.1,2058.3 L806.6,2060.2 L808.1,2061.9 L809.6,2063.5 L811.1,2065.0 L812.6,2066.5 L814.1,2067.9 L815.6,2069.3 L817.1,2070.5 L818.6,2071.6 L820.1,2072.5 L821.6,2073.2 L823.1,2073.7 L824.6,2073.9 L826.1,2073.9 L827.6,2073.8 L829.1,2073.5 L830.6,2073.2 L832.1,2072.7 L833.6,2072.2 L835.1,2071.6 L836.6,2071.0 L838.1,2070.3 L839.6,2069.5 L841.1,2068.6 L842.6,2067.6 L844.1,2066.3 L845.6,2064.8 L847.1,2063.1 L848.6,2061.3 L850.1,2059.4 L851.6,2057.4 L853.1,2055.3 L854.6,2053.0 L856.1,2050.6 L857.6,2048.0 L859.1,2045.2 L860.6,2042.3 L862.1,2039.2 L863.6,2036.0 L865.1,2032.5 L866.6,2029.0 L868.1,2025.4 L869.6,2021.8 L871.1,2018.2 L872.6,2014.8 L874.1,2011.3 L875.6,2007.9 L877.1,2004.5 L878.6,2000.9 L880.1,1997.3 L881.6,1993.5 L883.1,1989.6 L884.6,1985.7 L886.1,1981.6 L887.6,1977.3 L889.1,1972.9 L890.6,1968.1 L892.1,1962.9 L893.6,1957.3 L895.1,1951.1 L896.6,1944.6 L898.1,1937.9 L899.6,1931.2 L901.1,1924.5 L902.6,1917.9 L904.1,1911.2 L905.6,1904.5 L907.1,1897.6 L908.6,1890.8 L910.1,1883.7 L911.6,1876.6 L913.1,1869.3 L914.6,1861.9 L916.1,1854.5 L917.6,1847.0 L919.1,1839.5 L920.6,1831.9 L922.1,1824.4 L923.6,1817.0 L925.1,1809.7 L926.6,1802.6 L928.1,1795.9 L929.6,1789.7 L931.1,1784.0 L932.6,1778.7 L934.1,1773.8 L935.6,1769.0 L937.1,1764.5 L938.6,1760.1 L940.1,1755.9 L941.6,1751.8 L943.1,1747.7 L944.6,1743.5 L946.1,1739.1 L947.6,1734.3 L949.1,1729.3 L950.6,1723.8 L952.1,1717.8 L953.6,1710.9 L955.1,1703.1 L956.6,1694.5 L958.1,1685.3 L959.6,1676.0 L961.1,1666.7 L962.6,1657.5 L964.1,1648.3 L965.6,1639.1 L967.1,1630.0 L968.6,1621.0 L970.1,1612.1 L971.6,1603.3 L973.1,1594.6 L974.6,1585.9 L976.1,1577.3 L977.6,1568.8 L979.1,1560.2 L980.6,1551.7 L982.1,1543.2 L983.6,1534.6 L985.1,1526.0 L986.6,1517.3 L988.1,1508.7 L989.6,1500.4 L991.1,1492.2 L992.6,1484.3 L994.1,1476.5 L995.6,1469.0 L997.1,1461.6 L998.6,1454.3 L1000.1,1447.2 L1001.6,1440.3 L1003.1,1433.4 L1004.6,1426.7 L1006.1,1420.3 L1007.6,1414.3 L1009.1,1408.7 L1010.6,1403.3 L1012.1,1398.1 L1013.6,1393.0 L1015.1,1388.1 L1016.6,1383.3 L1018.1,1378.7 L1019.6,1374.2 L1021.1,1369.8 L1022.6,1365.6 L1024.1,1361.5 L1025.6,1357.5 L1027.1,1353.7 L1028.6,1350.1 L1030.1,1346.6 L1031.6,1343.3 L1033.1,1340.3 L1034.6,1337.4 L1036.1,1334.5 L1037.6,1331.7 L1039.1,1328.9 L1040.6,1325.9 L1042.1,1322.8 L1043.6,1319.3 L1045.1,1315.6 L1046.6,1311.9 L1048.1,1308.6 L1049.6,1305.7 L1051.1,1303.2 L1052.6,1300.9 L1054.1,1298.8 L1055.6,1296.9 L1057.1,1295.1 L1058.6,1293.4 L1060.1,1291.8 L1061.6,1290.4 L1063.1,1289.1 L1064.6,1287.8 L1066.1,1286.7 L1067.6,1285.7 L1069.1,1285.0 L1070.6,1284.5 L1072.1,1284.3 L1073.6,1284.3 L1075.1,1284.6 L1076.6,1285.1 L1078.1,1286.0 L1079.6,1287.1 L1081.1,1288.4 L1082.6,1289.9 L1084.1,1291.5 L1085.6,1293.0 L1087.1,1294.6 L1088.6,1296.1 L1090.1,1297.5 L1091.6,1299.0 L1093.1,1300.6 L1094.6,1302.3 L1096.1,1304.0 L1097.6,1305.8 L1099.1,1307.7 L1100.6,1309.6 L1102.1,1311.7 L1103.6,1313.9 L1105.1,1316.3 L1106.6,1318.9 L1108.1,1321.9 L1109.6,1325.3 L1111.1,1329.3 L1112.6,1334.1 L1114.1,1339.4 L1115.6,1344.8 L1117.1,1350.1 L1118.6,1355.1 L1120.1,1360.0 L1121.6,1364.9 L1123.1,1369.8 L1124.6,1374.7 L1126.1,1379.6 L1127.6,1384.7 L1129.1,1389.8 L1130.6,1395.1 L1132.1,1400.7 L1133.6,1406.4 L1135.1,1412.3 L1136.6,1418.5 L1138.1,1425.0 L1139.6,1431.7 L1141.1,1438.6 L1142.6,1445.6 L1144.1,1452.6 L1145.6,1459.7 L1147.1,1466.8 L1148.6,1473.9 L1150.1,1481.0 L1151.6,1488.1 L1153.1,1495.3 L1154.6,1502.4 L1156.1,1509.6 L1157.6,1516.8 L1159.1,1524.0 L1160.6,1531.2 L1162.1,1538.5 L1163.6,1545.7 L1165.1,1553.0 L1166.6,1560.3 L1168.1,1567.7 L1169.6,1575.1 L1171.1,1582.5 L1172.6,1589.9 L1174.1,1597.3 L1175.6,1604.8 L1177.1,1612.3 L1178.6,1619.9 L1180.1,1627.5 L1181.6,1635.1 L1183.1,1642.8 L1184.6,1650.5 L1186.1,1658.3 L1187.6,1666.1 L1189.1,1673.9 L1190.6,1681.6 L1192.1,1689.3 L1193.6,1696.8 L1195.1,1704.2 L1196.6,1711.2 L1198.1,1717.7 L1199.6,1723.7 L1201.1,1729.3 L1202.6,1734.6 L1204.1,1740.0 L1205.6,1746.0 L1207.1,1752.8 L1208.6,1760.5 L1210.1,1768.6 L1211.6,1776.9 L1213.1,1785.2 L1214.6,1793.2 L1216.1,1801.1 L1217.6,1808.9 L1219.1,1816.5 L1220.6,1823.9 L1222.1,1831.2 L1223.6,1838.4 L1225.1,1845.4 L1226.6,1852.4 L1228.1,1859.2 L1229.6,1866.1 L1231.1,1872.9 L1232.6,1879.6 L1234.1,1886.3 L1235.6,1892.8 L1237.1,1898.9 L1238.6,1904.7 L1240.1,1910.1 L1241.6,1915.2 L1243.1,1920.1 L1244.6,1924.8 L1246.1,1929.5 L1247.6,1934.2 L1249.1,1939.0 L1250.6,1944.0 L1252.1,1949.3 L1253.6,1954.9 L1255.1,1960.6 L1256.6,1966.4 L1258.1,1972.1 L1259.6,1977.6 L1261.1,1982.9 L1262.6,1988.0 L1264.1,1992.9 L1265.6,1997.7 L1267.1,2002.4 L1268.6,2006.9 L1270.1,2011.2 L1271.6,2015.3 L1273.1,2019.1 L1274.6,2022.6 L1276.1,2025.8 L1277.6,2028.8 L1279.1,2031.7 L1280.6,2034.4 L1282.1,2036.9 L1283.6,2039.3 L1285.1,2041.6 L1286.6,2043.8 L1288.1,2045.8 L1289.6,2047.7 L1291.1,2049.5 L1292.6,2051.2 L1294.1,2052.8 L1295.6,2054.4 L1297.1,2056.0 L1298.6,2057.5 L1300.1,2059.0 L1301.6,2060.3 L1303.1,2061.5 L1304.6,2062.4 L1306.1,2063.2 L1307.6,2063.7 L1309.1,2064.0 L1310.6,2064.1 L1312.1,2064.1 L1313.6,2064.1 L1315.1,2064.0 L1316.6,2063.8 L1318.1,2063.7 L1319.6,2063.5 L1321.1,2063.3 L1322.6,2062.9 L1324.1,2062.3 L1325.6,2061.5 L1327.1,2060.5 L1328.6,2059.3 L1330.1,2057.9 L1331.6,2056.4 L1333.1,2054.9 L1334.6,2053.2 L1336.1,2051.3 L1337.6,2049.2 L1339.1,2047.0 L1340.6,2044.5 L1342.1,2041.8 L1343.6,2039.1 L1345.1,2036.2 L1346.6,2033.2 L1348.1,2030.0 L1349.6,2026.7 L1351.1,2023.1 L1352.6,2019.5 L1354.1,2015.9 L1355.6,2012.3 L1357.1,2008.8 L1358.6,2005.4 L1360.1,2001.9 L1361.6,1998.4 L1363.1,1994.9 L1364.6,1991.3 L1366.1,1987.6 L1367.6,1983.9 L1369.1,1980.1 L1370.6,1976.3 L1372.1,1972.6 L1373.6,1968.9 L1375.1,1964.9 L1376.6,1960.6 L1378.1,1955.8 L1379.6,1950.4 L1381.1,1944.5 L1382.6,1938.4 L1384.1,1932.0 L1385.6,1925.5 L1387.1,1918.9 L1388.6,1912.2 L1390.1,1905.4 L1391.6,1898.6 L1393.1,1891.7 L1394.6,1884.7 L1396.1,1877.7 L1397.6,1870.7 L1399.1,1863.6 L1400.6,1856.5 L1402.1,1849.4 L1403.6,1842.2 L1405.1,1835.0 L1406.6,1827.8 L1408.1,1820.6 L1409.6,1813.3 L1411.1,1806.2 L1412.6,1799.3 L1414.1,1792.9 L1415.6,1787.0 L1417.1,1781.6 L1418.6,1776.5 L1420.1,1771.6 L1421.6,1766.9 L1423.1,1762.4 L1424.6,1758.1 L1426.1,1753.9 L1427.6,1749.7 L1429.1,1745.4 L1430.6,1740.9 L1432.1,1736.1 L1433.6,1731.0 L1435.1,1725.5 L1436.6,1719.5 L1438.1,1712.8 L1439.6,1705.4 L1441.1,1697.1 L1442.6,1688.2 L1444.1,1679.1 L1445.6,1670.0 L1447.1,1660.9 L1448.6,1651.8 L1450.1,1642.8 L1451.6,1633.8 L1453.1,1624.9 L1454.6,1615.9 L1456.1,1606.9 L1457.6,1597.9 L1459.1,1588.9 L1460.6,1579.8 L1462.1,1570.8 L1463.6,1561.8 L1465.1,1552.8 L1466.6,1543.9 L1468.1,1535.1 L1469.6,1526.3 L1471.1,1517.7 L1472.6,1509.2 L1474.1,1500.7 L1475.6,1492.4 L1477.1,1484.1 L1478.6,1475.9 L1480.1,1467.8 L1481.6,1459.9 L1483.1,1452.0 L1484.6,1444.3 L1486.1,1436.7 L1487.6,1429.2 L1489.1,1421.8 L1490.6,1414.7 L1492.1,1407.8 L1493.6,1401.3 L1495.1,1395.2 L1496.6,1389.3 L1498.1,1383.7 L1499.6,1378.3 L1501.1,1373.1 L1502.6,1368.2 L1504.1,1363.7 L1505.6,1359.6 L1507.1,1355.7 L1508.6,1352.1 L1510.1,1348.8 L1511.6,1345.5 L1513.1,1342.4 L1514.6,1339.4 L1516.1,1336.5 L1517.6,1333.6 L1519.1,1330.8 L1520.6,1327.9 L1522.1,1325.0 L1523.6,1322.1 L1525.1,1319.0 L1526.6,1315.9 L1528.1,1312.6 L1529.6,1309.1 L1531.1,1305.4 L1532.6,1301.7 L1534.1,1298.1 L1535.6,1294.8 L1537.1,1291.8 L1538.6,1289.1 L1540.1,1286.6 L1541.6,1284.4 L1543.1,1282.5 L1544.6,1280.9 L1546.1,1279.4 L1547.6,1278.2 L1549.1,1277.2 L1550.6,1276.4 L1552.1,1275.7 L1553.6,1275.2 L1555.1,1274.8 L1556.6,1274.5 L1558.1,1274.4 L1559.6,1274.5 L1561.1,1274.8 L1562.6,1275.3 L1564.1,1276.1 L1565.6,1277.1 L1567.1,1278.4 L1568.6,1280.2 L1570.1,1282.2 L1571.6,1284.3 L1573.1,1286.4 L1574.6,1288.6 L1576.1,1290.6 L1577.6,1292.6 L1579.1,1294.4 L1580.6,1296.0 L1582.1,1297.6 L1583.6,1299.1 L1585.1,1300.7 L1586.6,1302.3 L1588.1,1304.3 L1589.6,1306.5 L1591.1,1309.3 L1592.6,1312.9 L1594.1,1317.6 L1595.6,1323.0 L1597.1,1328.8 L1598.6,1334.5 L1600.1,1339.9 L1601.6,1345.2 L1603.1,1350.4 L1604.6,1355.5 L1606.1,1360.5 L1607.6,1365.5 L1609.1,1370.4 L1610.6,1375.4 L1612.1,1380.4 L1613.6,1385.5 L1615.1,1390.6 L1616.6,1395.8 L1618.1,1401.3 L1619.6,1406.9 L1621.1,1412.8 L1622.6,1419.0 L1624.1,1425.2 L1625.6,1431.5 L1627.1,1437.8 L1628.6,1444.2 L1630.1,1450.5 L1631.6,1456.7 L1633.1,1462.8 L1634.6,1468.9 L1636.1,1474.9 L1637.6,1480.9 L1639.1,1486.9 L1640.6,1493.0 L1642.1,1499.2 L1643.6,1505.3 L1645.1,1511.5 L1646.6,1517.4 L1648.1,1523.4 L1649.0,1527.9" fill="none" stroke="#000" stroke-width="4.6" stroke-linejoin="round" stroke-dasharray="28.5 13.5" stroke-dashoffset="0" />
<path d="M184.6,1500.0 L186.1,1509.5 L187.6,1518.1 L189.1,1526.8 L190.6,1535.6 L192.1,1544.5 L193.6,1553.3 L195.1,1562.1 L196.6,1570.9 L198.1,1579.7 L199.6,1588.4 L201.1,1597.1 L202.6,1605.8 L204.1,1614.4 L205.6,1623.0 L207.1,1631.5 L208.6,1639.9 L210.1,1648.2 L211.6,1656.3 L213.1,1664.4 L214.6,1672.4 L216.1,1680.5 L217.6,1688.6 L219.1,1696.9 L220.6,1705.5 L222.1,1714.4 L223.6,1723.6 L225.1,1733.4 L226.6,1743.6 L228.1,1753.9 L229.6,1764.0 L231.1,1773.7 L232.6,1782.7 L234.1,1791.1 L235.6,1799.1 L237.1,1806.6 L238.6,1813.9 L240.1,1821.1 L241.6,1828.3 L243.1,1835.5 L244.6,1842.8 L246.1,1850.3 L247.6,1857.8 L249.1,1865.4 L250.6,1873.0 L252.1,1880.6 L253.6,1888.1 L255.1,1895.4 L256.6,1902.7 L258.1,1909.9 L259.6,1916.9 L261.1,1924.0 L262.6,1930.9 L264.1,1937.7 L265.6,1944.3 L267.1,1950.8 L268.6,1957.1 L270.1,1963.2 L271.6,1969.1 L273.1,1974.9 L274.6,1980.6 L276.1,1986.1 L277.6,1991.5 L279.1,1996.8 L280.6,2002.0 L282.1,2007.1 L283.6,2012.0 L285.1,2016.8 L286.6,2021.5 L288.1,2026.1 L289.6,2030.6 L291.1,2035.0 L292.6,2039.3 L294.1,2043.5 L295.6,2047.6 L297.1,2051.5 L298.6,2055.2 L300.1,2058.8 L301.6,2062.4 L303.1,2065.8 L304.6,2069.2 L306.1,2072.5 L307.6,2075.6 L309.1,2078.6 L310.6,2081.5 L312.1,2084.1 L313.6,2086.6 L315.1,2088.8 L316.6,2090.8 L318.1,2092.8 L319.6,2094.6 L321.1,2096.2 L322.6,2097.8 L324.1,2099.1 L325.6,2100.3 L327.1,2101.3 L328.6,2102.1 L330.1,2102.8 L331.6,2103.4 L333.1,2104.0 L334.6,2104.5 L336.1,2104.9 L337.6,2105.2 L339.1,2105.3 L340.6,2105.4 L342.1,2105.3 L343.6,2105.0 L345.1,2104.7 L346.6,2104.2 L348.1,2103.7 L349.6,2103.0 L351.1,2102.3 L352.6,2101.5 L354.1,2100.4 L355.6,2099.1 L357.1,2097.5 L358.6,2095.5 L360.1,2093.4 L361.6,2091.0 L363.1,2088.6 L364.6,2085.9 L366.1,2083.2 L367.6,2080.4 L369.1,2077.4 L370.6,2074.2 L372.1,2070.7 L373.6,2067.0 L375.1,2063.0 L376.6,2059.0 L378.1,2054.9 L379.6,2050.8 L381.1,2046.6 L382.6,2042.4 L384.1,2038.1 L385.6,2033.7 L387.1,2029.2 L388.6,2024.6 L390.1,2019.9 L391.6,2015.0 L393.1,2010.0 L394.6,2004.8 L396.1,1999.4 L397.6,1993.9 L399.1,1988.3 L400.6,1982.5 L402.1,1976.8 L403.6,1970.9 L405.1,1965.1 L406.6,1959.3 L408.1,1953.4 L409.6,1947.5 L411.1,1941.6 L412.6,1935.5 L414.1,1929.4 L415.6,1923.2 L417.1,1916.9 L418.6,1910.5 L420.1,1904.0 L421.6,1897.4 L423.1,1890.7 L424.6,1883.9 L426.1,1877.0 L427.6,1870.0 L429.1,1862.9 L430.6,1855.7 L432.1,1848.3 L433.6,1840.8 L435.1,1833.2 L436.6,1825.6 L438.1,1818.0 L439.6,1810.5 L441.1,1803.1 L442.6,1795.8 L444.1,1788.7 L445.6,1781.6 L447.1,1774.6 L448.6,1767.6 L450.1,1760.6 L451.6,1753.5 L453.1,1746.4 L454.6,1739.3 L456.1,1732.1 L457.6,1724.8 L459.1,1717.6 L460.6,1710.3 L462.1,1703.0 L463.6,1695.7 L465.1,1688.3 L466.6,1680.7 L468.1,1673.0 L469.6,1665.1 L471.1,1657.0 L472.6,1648.6 L474.1,1640.1 L475.6,1631.4 L477.1,1622.7 L478.6,1614.1 L480.1,1605.4 L481.6,1596.7 L483.1,1588.1 L484.6,1579.4 L486.1,1570.7 L487.6,1562.2 L489.1,1553.8 L490.6,1545.7 L492.1,1537.7 L493.6,1530.0 L495.1,1522.5 L496.6,1515.0 L498.1,1507.5 L499.6,1500.0 L501.1,1492.4 L502.6,1484.6 L504.1,1476.8 L505.6,1469.0 L507.1,1461.2 L508.6,1453.6 L510.1,1446.2 L511.6,1439.1 L513.1,1432.2 L514.6,1425.5 L516.1,1418.9 L517.6,1412.5 L519.1,1406.2 L520.6,1400.0 L522.1,1394.0 L523.6,1388.1 L525.1,1382.2 L526.6,1376.5 L528.1,1370.9 L529.6,1365.4 L531.1,1360.0 L532.6,1354.6 L534.1,1349.3 L535.6,1344.1 L537.1,1339.0 L538.6,1333.9 L540.1,1328.9 L541.6,1324.0 L543.1,1319.3 L544.6,1314.7 L546.1,1310.3 L547.6,1305.9 L549.1,1301.7 L550.6,1297.6 L552.1,1293.5 L553.6,1289.7 L555.1,1286.1 L556.6,1282.8 L558.1,1279.8 L559.6,1277.1 L561.1,1274.5 L562.6,1272.2 L564.1,1270.1 L565.6,1268.4 L567.1,1267.0 L568.6,1266.0 L570.1,1265.3 L571.6,1264.7 L573.1,1264.2 L574.6,1263.7 L576.1,1263.4 L577.6,1263.3 L579.1,1263.3 L580.6,1263.5 L582.1,1263.8 L583.6,1264.4 L585.1,1265.1 L586.6,1265.9 L588.1,1266.9 L589.6,1268.2 L591.1,1269.9 L592.6,1272.1 L594.1,1274.8 L595.6,1277.9 L597.1,1281.2 L598.6,1284.6 L600.1,1288.1 L601.6,1291.8 L603.1,1295.7 L604.6,1299.8 L606.1,1304.1 L607.6,1308.4 L609.1,1312.9 L610.6,1317.3 L612.1,1321.9 L613.6,1326.5 L615.1,1331.2 L616.6,1336.0 L618.1,1340.9 L619.6,1345.9 L621.1,1351.0 L622.6,1356.2 L624.1,1361.4 L625.6,1366.7 L627.1,1372.2 L628.6,1377.7 L630.1,1383.3 L631.6,1389.0 L633.1,1394.7 L634.6,1400.5 L636.1,1406.3 L637.6,1412.2 L639.1,1418.1 L640.6,1424.1 L642.1,1430.2 L643.6,1436.2 L645.1,1442.3 L646.6,1448.3 L648.1,1454.3 L649.6,1460.2 L651.1,1466.1 L652.6,1471.9 L654.1,1477.7 L655.6,1483.6 L657.1,1489.7 L658.6,1496.1 L660.1,1502.8 L661.6,1509.9 L663.1,1517.5 L664.6,1525.4 L666.1,1533.5 L667.6,1541.7 L669.1,1549.7 L670.6,1557.4 L672.1,1564.8 L673.6,1571.9 L675.1,1579.0 L676.6,1585.9 L678.1,1593.0 L679.6,1600.3 L681.1,1607.8 L682.6,1615.6 L684.1,1623.6 L685.6,1631.6 L687.1,1639.5 L688.6,1647.2 L690.1,1654.5 L691.6,1661.5 L693.1,1668.4 L694.6,1675.2 L696.1,1682.4 L697.6,1690.1 L699.1,1698.6 L700.6,1707.7 L702.1,1717.0 L703.6,1726.1 L705.1,1734.8 L706.6,1743.1 L708.1,1751.2 L709.6,1759.2 L711.1,1767.0 L712.6,1774.8 L714.1,1782.6 L715.6,1790.3 L717.1,1797.9 L718.6,1805.4 L720.1,1812.9 L721.6,1820.4 L723.1,1827.8 L724.6,1835.3 L726.1,1842.7 L727.6,1850.2 L729.1,1857.8 L730.6,1865.3 L732.1,1872.9 L733.6,1880.4 L735.1,1887.9 L736.6,1895.3 L738.1,1902.7 L739.6,1910.0 L741.1,1917.4 L742.6,1924.6 L744.1,1931.9 L745.6,1939.0 L747.1,1946.1 L748.6,1953.1 L750.1,1959.9 L751.6,1966.7 L753.1,1973.3 L754.6,1979.8 L756.1,1986.3 L757.6,1992.6 L759.1,1998.9 L760.6,2005.0 L762.1,2011.1 L763.6,2017.2 L765.1,2023.2 L766.6,2029.1 L768.1,2035.0 L769.6,2040.8 L771.1,2046.4 L772.6,2051.8 L774.1,2057.0 L775.6,2062.0 L777.1,2066.8 L778.6,2071.4 L780.1,2075.9 L781.6,2080.3 L783.1,2084.4 L784.6,2088.2 L786.1,2091.7 L787.6,2094.9 L789.1,2097.9 L790.6,2100.6 L792.1,2103.1 L793.6,2105.5 L795.1,2107.7 L796.6,2109.7 L798.1,2111.7 L799.6,2113.5 L801.1,2115.2 L802.6,2116.8 L804.1,2118.4 L805.6,2119.9 L807.1,2121.2 L808.6,2122.5 L810.1,2123.5 L811.6,2124.4 L813.1,2125.1 L814.6,2125.7 L816.1,2126.2 L817.6,2126.7 L819.1,2127.1 L820.6,2127.5 L822.1,2127.7 L823.6,2127.8 L825.1,2127.9 L826.6,2127.7 L828.1,2127.4 L829.6,2127.0 L831.1,2126.4 L832.6,2125.7 L834.1,2124.9 L835.6,2124.0 L837.1,2123.0 L838.6,2121.7 L840.1,2120.1 L841.6,2118.2 L843.1,2116.0 L844.6,2113.6 L846.1,2110.9 L847.6,2108.2 L849.1,2105.3 L850.6,2102.3 L852.1,2099.1 L853.6,2095.7 L855.1,2092.0 L856.6,2088.1 L858.1,2084.1 L859.6,2080.0 L861.1,2075.7 L862.6,2071.4 L864.1,2066.9 L865.6,2062.2 L867.1,2057.4 L868.6,2052.5 L870.1,2047.4 L871.6,2042.3 L873.1,2037.1 L874.6,2031.8 L876.1,2026.5 L877.6,2021.1 L879.1,2015.6 L880.6,2009.9 L882.1,2004.2 L883.6,1998.5 L885.1,1992.6 L886.6,1986.6 L888.1,1980.5 L889.6,1974.3 L891.1,1968.0 L892.6,1961.6 L894.1,1955.1 L895.6,1948.6 L897.1,1942.1 L898.6,1935.5 L900.1,1928.9 L901.6,1922.3 L903.1,1915.6 L904.6,1908.9 L906.1,1902.2 L907.6,1895.4 L909.1,1888.4 L910.6,1881.4 L912.1,1874.2 L913.6,1866.9 L915.1,1859.5 L916.6,1852.0 L918.1,1844.5 L919.6,1836.9 L921.1,1829.4 L922.6,1822.0 L924.1,1814.6 L925.6,1807.3 L927.1,1799.9 L928.6,1792.7 L930.1,1785.4 L931.6,1778.3 L933.1,1771.4 L934.6,1764.7 L936.1,1758.2 L937.6,1752.0 L939.1,1746.1 L940.6,1740.3 L942.1,1734.3 L943.6,1728.0 L945.1,1721.3 L946.6,1713.9 L948.1,1705.8 L949.6,1697.2 L951.1,1688.2 L952.6,1678.9 L954.1,1669.6 L955.6,1660.3 L957.1,1651.1 L958.6,1642.1 L960.1,1633.0 L961.6,1624.1 L963.1,1615.1 L964.6,1606.2 L966.1,1597.4 L967.6,1588.7 L969.1,1580.1 L970.6,1571.6 L972.1,1563.1 L973.6,1554.6 L975.1,1546.1 L976.6,1537.5 L978.1,1528.8 L979.6,1520.2 L981.1,1511.6 L982.6,1503.1 L984.1,1494.9 L985.6,1486.9 L987.1,1479.1 L988.6,1471.5 L990.1,1464.0 L991.6,1456.7 L993.1,1449.6 L994.6,1442.6 L996.1,1435.8 L997.6,1429.1 L999.1,1422.6 L1000.6,1416.1 L1002.1,1409.8 L1003.6,1403.5 L1005.1,1397.3 L1006.6,1391.1 L1008.1,1385.0 L1009.6,1379.1 L1011.1,1373.2 L1012.6,1367.5 L1014.1,1361.9 L1015.6,1356.4 L1017.1,1351.0 L1018.6,1345.7 L1020.1,1340.5 L1021.6,1335.4 L1023.1,1330.5 L1024.6,1325.7 L1026.1,1321.1 L1027.6,1316.5 L1029.1,1312.1 L1030.6,1307.7 L1032.1,1303.6 L1033.6,1299.6 L1035.1,1295.8 L1036.6,1292.3 L1038.1,1289.0 L1039.6,1285.8 L1041.1,1282.7 L1042.6,1279.8 L1044.1,1277.0 L1045.6,1274.5 L1047.1,1272.4 L1048.6,1270.5 L1050.1,1268.9 L1051.6,1267.5 L1053.1,1266.1 L1054.6,1264.9 L1056.1,1263.8 L1057.6,1262.7 L1059.1,1261.9 L1060.6,1261.1 L1062.1,1260.6 L1063.6,1260.3 L1065.1,1260.2 L1066.6,1260.4 L1068.1,1260.8 L1069.6,1261.3 L1071.1,1262.1 L1072.6,1263.0 L1074.1,1264.0 L1075.6,1265.1 L1077.1,1266.3 L1078.6,1267.7 L1080.1,1269.4 L1081.6,1271.4 L1083.1,1273.6 L1084.6,1276.0 L1086.1,1278.6 L1087.6,1281.3 L1089.1,1284.0 L1090.6,1286.8 L1092.1,1289.8 L1093.6,1292.8 L1095.1,1296.0 L1096.6,1299.4 L1098.1,1303.0 L1099.6,1306.8 L1101.1,1310.7 L1102.6,1315.0 L1104.1,1319.5 L1105.6,1324.4 L1107.1,1329.6 L1108.6,1335.0 L1110.1,1340.5 L1111.6,1346.1 L1113.1,1351.7 L1114.6,1357.4 L1116.1,1363.1 L1117.6,1368.8 L1119.1,1374.7 L1120.6,1380.6 L1122.1,1386.6 L1123.6,1392.7 L1125.1,1398.9 L1126.6,1405.2 L1128.1,1411.7 L1129.6,1418.3 L1131.1,1425.0 L1132.6,1431.8 L1134.1,1438.7 L1135.6,1445.6 L1137.1,1452.6 L1138.6,1459.7 L1140.1,1466.8 L1141.6,1473.9 L1143.1,1481.0 L1144.6,1488.1 L1146.1,1495.3 L1147.6,1502.4 L1149.1,1509.6 L1150.6,1516.8 L1152.1,1524.0 L1153.6,1531.2 L1155.1,1538.5 L1156.6,1545.7 L1158.1,1553.0 L1159.6,1560.3 L1161.1,1567.7 L1162.6,1575.1 L1164.1,1582.5 L1165.6,1589.9 L1167.1,1597.3 L1168.6,1604.8 L1170.1,1612.3 L1171.6,1619.9 L1173.1,1627.5 L1174.6,1635.1 L1176.1,1642.8 L1177.6,1650.5 L1179.1,1658.2 L1180.6,1666.0 L1182.1,1673.8 L1183.6,1681.7 L1185.1,1689.6 L1186.6,1697.5 L1188.1,1705.5 L1189.6,1713.6 L1191.1,1721.8 L1192.6,1730.2 L1194.1,1738.7 L1195.6,1747.4 L1197.1,1756.1 L1198.6,1764.7 L1200.1,1773.1 L1201.6,1781.4 L1203.1,1789.3 L1204.6,1797.1 L1206.1,1804.6 L1207.6,1812.1 L1209.1,1819.5 L1210.6,1826.9 L1212.1,1834.3 L1213.6,1841.8 L1215.1,1849.3 L1216.6,1856.9 L1218.1,1864.5 L1219.6,1872.0 L1221.1,1879.6 L1222.6,1887.1 L1224.1,1894.5 L1225.6,1901.7 L1227.1,1908.9 L1228.6,1915.9 L1230.1,1922.9 L1231.6,1929.7 L1233.1,1936.5 L1234.6,1943.2 L1236.1,1949.7 L1237.6,1956.2 L1239.1,1962.5 L1240.6,1968.8 L1242.1,1975.0 L1243.6,1981.0 L1245.1,1987.0 L1246.6,1992.9 L1248.1,1998.7 L1249.6,2004.5 L1251.1,2010.1 L1252.6,2015.7 L1254.1,2021.2 L1255.6,2026.6 L1257.1,2032.0 L1258.6,2037.2 L1260.1,2042.3 L1261.6,2047.3 L1263.1,2052.1 L1264.6,2056.8 L1266.1,2061.3 L1267.6,2065.8 L1269.1,2070.2 L1270.6,2074.3 L1272.1,2078.3 L1273.6,2081.9 L1275.1,2085.3 L1276.6,2088.5 L1278.1,2091.5 L1279.6,2094.4 L1281.1,2097.0 L1282.6,2099.5 L1284.1,2101.8 L1285.6,2103.8 L1287.1,2105.5 L1288.6,2107.0 L1290.1,2108.3 L1291.6,2109.5 L1293.1,2110.6 L1294.6,2111.6 L1296.1,2112.4 L1297.6,2113.1 L1299.1,2113.7 L1300.6,2114.1 L1302.1,2114.5 L1303.6,2114.8 L1305.1,2115.1 L1306.6,2115.3 L1308.1,2115.4 L1309.6,2115.5 L1311.1,2115.5 L1312.6,2115.3 L1314.1,2114.9 L1315.6,2114.4 L1317.1,2113.7 L1318.6,2112.9 L1320.1,2111.9 L1321.6,2110.9 L1323.1,2109.5 L1324.6,2107.9 L1326.1,2106.0 L1327.6,2103.7 L1329.1,2101.3 L1330.6,2098.7 L1332.1,2095.9 L1333.6,2093.2 L1335.1,2090.3 L1336.6,2087.4 L1338.1,2084.2 L1339.6,2080.9 L1341.1,2077.5 L1342.6,2074.0 L1344.1,2070.3 L1345.6,2066.5 L1347.1,2062.6 L1348.6,2058.5 L1350.1,2054.2 L1351.6,2049.8 L1353.1,2045.3 L1354.6,2040.6 L1356.1,2035.9 L1357.6,2031.1 L1359.1,2026.2 L1360.6,2021.2 L1362.1,2016.2 L1363.6,2011.0 L1365.1,2005.8 L1366.6,2000.5 L1368.1,1995.0 L1369.6,1989.6 L1371.1,1984.0 L1372.6,1978.3 L1374.1,1972.6 L1375.6,1966.8 L1377.1,1960.8 L1378.6,1954.8 L1380.1,1948.7 L1381.6,1942.5 L1383.1,1936.2 L1384.6,1929.8 L1386.1,1923.3 L1387.6,1916.7 L1389.1,1909.9 L1390.6,1903.1 L1392.1,1896.2 L1393.6,1889.3 L1395.1,1882.4 L1396.6,1875.4 L1398.1,1868.4 L1399.6,1861.3 L1401.1,1854.1 L1402.6,1847.0 L1404.1,1839.8 L1405.6,1832.6 L1407.1,1825.4 L1408.6,1818.2 L1410.1,1811.0 L1411.6,1803.8 L1413.1,1796.5 L1414.6,1789.3 L1416.1,1782.2 L1417.6,1775.1 L1419.1,1768.3 L1420.6,1761.6 L1422.1,1755.2 L1423.6,1749.0 L1425.1,1742.8 L1426.6,1736.6 L1428.1,1730.2 L1429.6,1723.3 L1431.1,1716.0 L1432.6,1708.1 L1434.1,1699.7 L1435.6,1691.0 L1437.1,1682.0 L1438.6,1672.9 L1440.1,1663.8 L1441.6,1654.7 L1443.1,1645.7 L1444.6,1636.8 L1446.1,1627.8 L1447.6,1618.9 L1449.1,1609.9 L1450.6,1601.0 L1452.1,1591.9 L1453.6,1582.9 L1455.1,1573.8 L1456.6,1564.7 L1458.1,1555.7 L1459.6,1546.8 L1461.1,1538.0 L1462.6,1529.2 L1464.1,1520.6 L1465.6,1512.0 L1467.1,1503.5 L1468.6,1495.2 L1470.1,1486.9 L1471.6,1478.7 L1473.1,1470.5 L1474.6,1462.5 L1476.1,1454.6 L1477.6,1446.8 L1479.1,1439.2 L1480.6,1431.7 L1482.1,1424.3 L1483.6,1417.1 L1485.1,1410.1 L1486.6,1403.4 L1488.1,1397.1 L1489.6,1391.1 L1491.1,1385.5 L1492.6,1380.2 L1494.1,1375.1 L1495.6,1370.1 L1497.1,1365.1 L1498.6,1360.1 L1500.1,1355.1 L1501.6,1350.0 L1503.1,1344.8 L1504.6,1339.6 L1506.1,1334.5 L1507.6,1329.5 L1509.1,1324.6 L1510.6,1319.8 L1512.1,1315.1 L1513.6,1310.5 L1515.1,1305.9 L1516.6,1301.5 L1518.1,1297.2 L1519.6,1293.0 L1521.1,1288.8 L1522.6,1284.8 L1524.1,1280.8 L1525.6,1276.8 L1527.1,1273.0 L1528.6,1269.3 L1530.1,1265.9 L1531.6,1262.8 L1533.1,1260.0 L1534.6,1257.4 L1536.1,1255.0 L1537.6,1252.8 L1539.1,1250.7 L1540.6,1249.0 L1542.1,1247.6 L1543.6,1246.6 L1545.1,1245.8 L1546.6,1245.1 L1548.1,1244.6 L1549.6,1244.2 L1551.1,1243.8 L1552.6,1243.5 L1554.1,1243.3 L1555.6,1243.3 L1557.1,1243.4 L1558.6,1243.7 L1560.1,1244.3 L1561.6,1245.1 L1563.1,1246.1 L1564.6,1247.3 L1566.1,1248.6 L1567.6,1250.1 L1569.1,1252.1 L1570.6,1254.5 L1572.1,1257.5 L1573.6,1261.1 L1575.1,1265.0 L1576.6,1269.3 L1578.1,1273.8 L1579.6,1278.7 L1581.1,1284.0 L1582.6,1289.6 L1584.1,1295.3 L1585.6,1301.1 L1587.1,1306.8 L1588.6,1312.5 L1590.1,1318.1 L1591.6,1323.7 L1593.1,1329.3 L1594.6,1334.9 L1596.1,1340.6 L1597.6,1346.3 L1599.1,1352.1 L1600.6,1357.9 L1602.1,1363.7 L1603.6,1369.6 L1605.1,1375.5 L1606.6,1381.5 L1608.1,1387.5 L1609.6,1393.6 L1611.1,1399.7 L1612.6,1405.9 L1614.1,1412.2 L1615.6,1418.6 L1617.1,1425.0 L1618.6,1431.5 L1620.1,1437.9 L1621.6,1444.3 L1623.1,1450.6 L1624.6,1456.8 L1626.1,1462.9 L1627.6,1468.9 L1629.1,1474.9 L1630.6,1480.9 L1632.1,1486.9 L1633.6,1493.0 L1635.1,1499.1 L1636.6,1505.3 L1638.1,1511.5 L1639.6,1517.4 L1641.1,1523.4 L1642.0,1527.9" fill="none" stroke="#000" stroke-width="4.6" stroke-linejoin="round"  />
</g>
<rect x="184.60" y="1210.10" width="1457.00" height="1020.80" fill="none" stroke="#000" stroke-width="2.5"/>
<line x1="306.02" y1="2230.90" x2="306.02" y2="2215.21" stroke="#000" stroke-width="2.5" />
<line x1="306.02" y1="1210.10" x2="306.02" y2="1225.79" stroke="#000" stroke-width="2.5" />
<line x1="427.43" y1="2230.90" x2="427.43" y2="2200.93" stroke="#000" stroke-width="2.5" />
<line x1="427.43" y1="1210.10" x2="427.43" y2="1240.07" stroke="#000" stroke-width="2.5" />
<line x1="548.85" y1="2230.90" x2="548.85" y2="2215.21" stroke="#000" stroke-width="2.5" />
<line x1="548.85" y1="1210.10" x2="548.85" y2="1225.79" stroke="#000" stroke-width="2.5" />
<line x1="670.27" y1="2230.90" x2="670.27" y2="2200.93" stroke="#000" stroke-width="2.5" />
<line x1="670.27" y1="1210.10" x2="670.27" y2="1240.07" stroke="#000" stroke-width="2.5" />
<line x1="791.68" y1="2230.90" x2="791.68" y2="2215.21" stroke="#000" stroke-width="2.5" />
<line x1="791.68" y1="1210.10" x2="791.68" y2="1225.79" stroke="#000" stroke-width="2.5" />
<line x1="913.10" y1="2230.90" x2="913.10" y2="2200.93" stroke="#000" stroke-width="2.5" />
<line x1="913.10" y1="1210.10" x2="913.10" y2="1240.07" stroke="#000" stroke-width="2.5" />
<line x1="1034.52" y1="2230.90" x2="1034.52" y2="2215.21" stroke="#000" stroke-width="2.5" />
<line x1="1034.52" y1="1210.10" x2="1034.52" y2="1225.79" stroke="#000" stroke-width="2.5" />
<line x1="1155.93" y1="2230.90" x2="1155.93" y2="2200.93" stroke="#000" stroke-width="2.5" />
<line x1="1155.93" y1="1210.10" x2="1155.93" y2="1240.07" stroke="#000" stroke-width="2.5" />
<line x1="1277.35" y1="2230.90" x2="1277.35" y2="2215.21" stroke="#000" stroke-width="2.5" />
<line x1="1277.35" y1="1210.10" x2="1277.35" y2="1225.79" stroke="#000" stroke-width="2.5" />
<line x1="1398.77" y1="2230.90" x2="1398.77" y2="2200.93" stroke="#000" stroke-width="2.5" />
<line x1="1398.77" y1="1210.10" x2="1398.77" y2="1240.07" stroke="#000" stroke-width="2.5" />
<line x1="1520.18" y1="2230.90" x2="1520.18" y2="2215.21" stroke="#000" stroke-width="2.5" />
<line x1="1520.18" y1="1210.10" x2="1520.18" y2="1225.79" stroke="#000" stroke-width="2.5" />
<line x1="184.60" y1="1975.70" x2="214.57" y2="1975.70" stroke="#000" stroke-width="2.5" />
<line x1="1641.60" y1="1975.70" x2="1611.63" y2="1975.70" stroke="#000" stroke-width="2.5" />
<line x1="184.60" y1="1720.50" x2="214.57" y2="1720.50" stroke="#000" stroke-width="2.5" />
<line x1="1641.60" y1="1720.50" x2="1611.63" y2="1720.50" stroke="#000" stroke-width="2.5" />
<line x1="184.60" y1="1465.30" x2="214.57" y2="1465.30" stroke="#000" stroke-width="2.5" />
<line x1="1641.60" y1="1465.30" x2="1611.63" y2="1465.30" stroke="#000" stroke-width="2.5" />
<line x1="184.60" y1="2103.30" x2="200.29" y2="2103.30" stroke="#000" stroke-width="2.5" />
<line x1="1641.60" y1="2103.30" x2="1625.91" y2="2103.30" stroke="#000" stroke-width="2.5" />
<line x1="184.60" y1="1848.10" x2="200.29" y2="1848.10" stroke="#000" stroke-width="2.5" />
<line x1="1641.60" y1="1848.10" x2="1625.91" y2="1848.10" stroke="#000" stroke-width="2.5" />
<line x1="184.60" y1="1592.90" x2="200.29" y2="1592.90" stroke="#000" stroke-width="2.5" />
<line x1="1641.60" y1="1592.90" x2="1625.91" y2="1592.90" stroke="#000" stroke-width="2.5" />
<line x1="184.60" y1="1337.70" x2="200.29" y2="1337.70" stroke="#000" stroke-width="2.5" />
<line x1="1641.60" y1="1337.70" x2="1625.91" y2="1337.70" stroke="#000" stroke-width="2.5" />
<text x="184.60" y="2283.54" font-size="53.45" text-anchor="middle" >0</text>
<text x="427.43" y="2283.54" font-size="53.45" text-anchor="middle" >60</text>
<text x="670.27" y="2283.54" font-size="53.45" text-anchor="middle" >120</text>
<text x="913.10" y="2283.54" font-size="53.45" text-anchor="middle" >180</text>
<text x="1155.93" y="2283.54" font-size="53.45" text-anchor="middle" >240</text>
<text x="1398.77" y="2283.54" font-size="53.45" text-anchor="middle" >300</text>
<text x="1641.60" y="2283.54" font-size="53.45" text-anchor="middle" >360</text>
<text x="172.45" y="2249.12" font-size="53.45" text-anchor="end" >0</text>
<text x="175.08" y="1993.92" font-size="53.45" text-anchor="end" >0.1</text>
<text x="172.45" y="1738.72" font-size="53.45" text-anchor="end" >0.2</text>
<text x="172.45" y="1483.52" font-size="53.45" text-anchor="end" >0.3</text>
<text x="172.45" y="1228.32" font-size="53.45" text-anchor="end" >0.4</text>
<text x="917.40" y="2346.20" font-size="69.86" text-anchor="middle" textLength="486.3">Angle [ degrees ]</text>
<text transform="translate(76.30,1719.20) rotate(-90)" font-size="69.86" text-anchor="middle" textLength="647.8">Torque coefficient [ - ]</text>
<line x1="1188.10" y1="1313.70" x2="1280.90" y2="1313.70" stroke="#000" stroke-width="5.0" stroke-dasharray="33.4 14.2 5.1 14.2" stroke-dashoffset="47.6"/>
<line x1="1188.10" y1="1366.40" x2="1280.90" y2="1366.40" stroke="#000" stroke-width="5.0" />
<line x1="1188.10" y1="1418.80" x2="1280.90" y2="1418.80" stroke="#000" stroke-width="5.0" stroke-dasharray="33.4 14.2"/>
<text x="1309.40" y="1335.00" font-size="50.92" text-anchor="start" >Tu 1%</text>
<text x="1309.40" y="1384.90" font-size="50.92" text-anchor="start" >Tu 10%</text>
<text x="1309.40" y="1437.50" font-size="50.92" text-anchor="start" >Tu 20%</text>
</g>
</svg>
</body></html>
